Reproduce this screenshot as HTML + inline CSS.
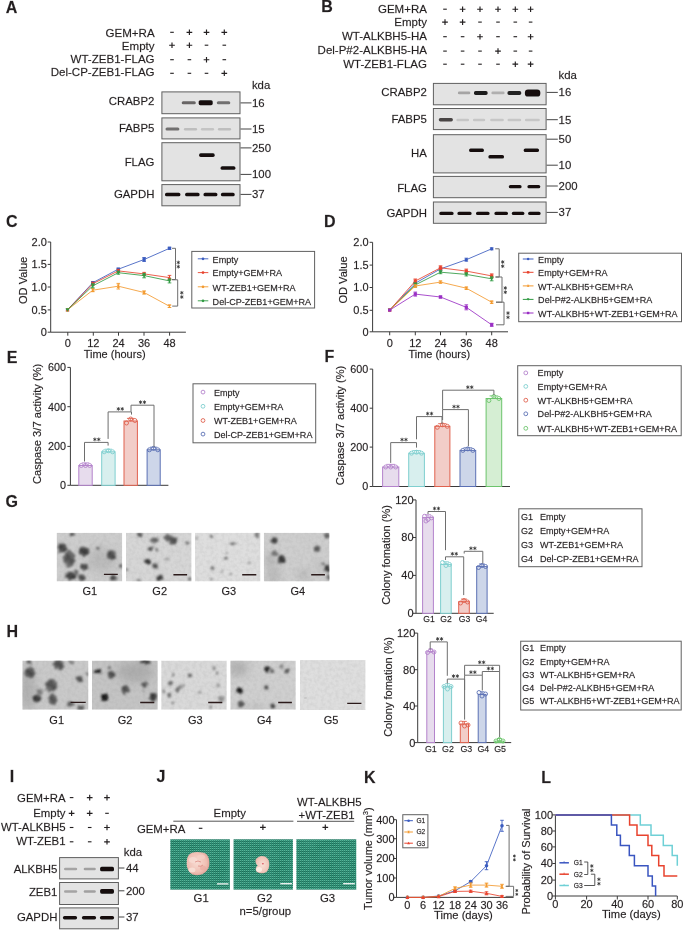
<!DOCTYPE html>
<html><head><meta charset="utf-8"><title>Figure</title>
<style>
html,body{margin:0;padding:0;background:#fff;}
svg{display:block;will-change:transform;}
text{font-family:"Liberation Sans",sans-serif;fill:#231f20;stroke:#231f20;stroke-width:0.28px;stroke-opacity:0.55;}
</style></head>
<body>
<svg width="685" height="931" viewBox="0 0 685 931">
<defs>
<filter id="bb" x="-20%" y="-100%" width="140%" height="300%"><feGaussianBlur stdDeviation="0.55"/></filter>
<filter id="bl1" x="-50%" y="-50%" width="200%" height="200%"><feGaussianBlur stdDeviation="0.8"/></filter>
<filter id="bl05" x="-20%" y="-20%" width="140%" height="140%"><feGaussianBlur stdDeviation="0.5"/></filter>
<filter id="bl4" x="-100%" y="-100%" width="300%" height="300%"><feGaussianBlur stdDeviation="4"/></filter>
<filter id="rough" x="-10%" y="-10%" width="120%" height="120%"><feTurbulence type="fractalNoise" baseFrequency="0.35" numOctaves="3" seed="7" result="t"/><feDisplacementMap in="SourceGraphic" in2="t" scale="4" xChannelSelector="R" yChannelSelector="G" result="d"/><feGaussianBlur in="d" stdDeviation="0.8"/></filter>
<filter id="noise" x="0" y="0" width="100%" height="100%"><feTurbulence type="fractalNoise" baseFrequency="0.28" numOctaves="2" seed="3"/><feColorMatrix type="matrix" values="0 0 0 0 0.25  0 0 0 0 0.25  0 0 0 0 0.25  1.3 0 0 0 -0.5"/></filter>
<pattern id="fab" width="2" height="2" patternUnits="userSpaceOnUse"><rect x="0" y="0" width="1" height="1" fill="#58b498"/><rect x="1" y="0" width="1" height="1" fill="#2b8c72"/><rect x="0" y="1" width="1" height="1" fill="#1b6c55"/><rect x="1" y="1" width="1" height="1" fill="#2a856d"/></pattern>
<radialGradient id="tum" cx="0.45" cy="0.45" r="0.6"><stop offset="0" stop-color="#f8ddd4"/><stop offset="0.7" stop-color="#efbfb3"/><stop offset="1" stop-color="#dc9e94"/></radialGradient>
<radialGradient id="tum2" cx="0.5" cy="0.5" r="0.6"><stop offset="0" stop-color="#f8e0d6"/><stop offset="0.7" stop-color="#f0c6ba"/><stop offset="1" stop-color="#e0a99e"/></radialGradient>
<filter id="noise2" x="0" y="0" width="100%" height="100%"><feTurbulence type="fractalNoise" baseFrequency="0.08" numOctaves="2" seed="11"/><feColorMatrix type="matrix" values="0 0 0 0 0.1  0 0 0 0 0.45  0 0 0 0 0.35  0 0 0 1.2 -0.3"/></filter>
</defs>
<rect x="0" y="0" width="685" height="931" fill="#fff"/>
<text x="5.800000000000001" y="13.1" font-size="16" font-weight="bold" fill="#1a1414">A</text>
<text x="154.6" y="36.6" font-size="11.55" text-anchor="end">GEM+RA</text>
<text x="154.6" y="49.7" font-size="11.55" text-anchor="end">Empty</text>
<text x="154.6" y="62.9" font-size="11.55" text-anchor="end">WT-ZEB1-FLAG</text>
<text x="154.6" y="76.1" font-size="11.55" text-anchor="end">Del-CP-ZEB1-FLAG</text>
<rect x="170.20" y="31.75" width="3.6" height="1.1" fill="#231f20"/>
<path d="M186.55,32.30H192.25M189.40,29.50V35.10" stroke="#231f20" stroke-width="1.15" fill="none"/>
<path d="M203.65,32.30H209.35M206.50,29.50V35.10" stroke="#231f20" stroke-width="1.15" fill="none"/>
<path d="M221.45,32.30H227.15M224.30,29.50V35.10" stroke="#231f20" stroke-width="1.15" fill="none"/>
<path d="M169.15,45.20H174.85M172.00,42.40V48.00" stroke="#231f20" stroke-width="1.15" fill="none"/>
<path d="M186.55,45.20H192.25M189.40,42.40V48.00" stroke="#231f20" stroke-width="1.15" fill="none"/>
<rect x="204.70" y="44.65" width="3.6" height="1.1" fill="#231f20"/>
<rect x="222.50" y="44.65" width="3.6" height="1.1" fill="#231f20"/>
<rect x="170.20" y="59.15" width="3.6" height="1.1" fill="#231f20"/>
<rect x="187.60" y="59.15" width="3.6" height="1.1" fill="#231f20"/>
<path d="M203.65,59.70H209.35M206.50,56.90V62.50" stroke="#231f20" stroke-width="1.15" fill="none"/>
<rect x="222.50" y="59.15" width="3.6" height="1.1" fill="#231f20"/>
<rect x="170.20" y="72.75" width="3.6" height="1.1" fill="#231f20"/>
<rect x="187.60" y="72.75" width="3.6" height="1.1" fill="#231f20"/>
<rect x="204.70" y="72.75" width="3.6" height="1.1" fill="#231f20"/>
<path d="M221.45,73.30H227.15M224.30,70.50V76.10" stroke="#231f20" stroke-width="1.15" fill="none"/>
<text x="251.9" y="88.5" font-size="11.4">kda</text>
<rect x="161.9" y="91.9" width="78.1" height="21.799999999999997" fill="#e3e3e3" stroke="#5f5f5f" stroke-width="1"/>
<rect x="161.9" y="117.9" width="78.1" height="21.0" fill="#e3e3e3" stroke="#5f5f5f" stroke-width="1"/>
<rect x="161.9" y="142.7" width="78.1" height="38.10000000000002" fill="#e3e3e3" stroke="#5f5f5f" stroke-width="1"/>
<rect x="161.9" y="184.6" width="78.1" height="21.200000000000017" fill="#e3e3e3" stroke="#5f5f5f" stroke-width="1"/>
<text x="154.4" y="105.2" font-size="11.4" text-anchor="end">CRABP2</text>
<text x="154.4" y="131.6" font-size="11.4" text-anchor="end">FABP5</text>
<text x="154.4" y="166.0" font-size="11.4" text-anchor="end">FLAG</text>
<text x="154.4" y="198.2" font-size="11.4" text-anchor="end">GAPDH</text>
<rect x="181.70" y="101.30" width="14.10" height="3.0" rx="1.50" fill="rgb(103,101,101)" filter="url(#bb)"/>
<rect x="198.70" y="100.20" width="14.00" height="5.0" rx="1.60" fill="rgb(20,16,16)" filter="url(#bb)"/>
<rect x="216.80" y="101.30" width="13.50" height="3.0" rx="1.50" fill="rgb(113,111,111)" filter="url(#bb)"/>
<rect x="165.50" y="127.50" width="13.90" height="3.0" rx="1.50" fill="rgb(113,111,111)" filter="url(#bb)"/>
<rect x="183.90" y="127.95" width="13.20" height="2.5" rx="1.25" fill="rgb(190,190,190)" filter="url(#bb)"/>
<rect x="200.90" y="127.95" width="13.20" height="2.5" rx="1.25" fill="rgb(196,196,196)" filter="url(#bb)"/>
<rect x="217.90" y="127.95" width="13.20" height="2.5" rx="1.25" fill="rgb(190,190,190)" filter="url(#bb)"/>
<rect x="199.10" y="153.30" width="15.60" height="3.6" rx="1.60" fill="rgb(20,16,16)" filter="url(#bb)"/>
<rect x="220.60" y="166.20" width="14.80" height="3.6" rx="1.60" fill="rgb(20,16,16)" filter="url(#bb)"/>
<rect x="165.00" y="192.70" width="15.40" height="3.6" rx="1.60" fill="rgb(20,16,16)" filter="url(#bb)"/>
<rect x="185.10" y="192.70" width="14.50" height="3.6" rx="1.60" fill="rgb(20,16,16)" filter="url(#bb)"/>
<rect x="203.50" y="192.70" width="13.90" height="3.6" rx="1.60" fill="rgb(20,16,16)" filter="url(#bb)"/>
<rect x="220.90" y="192.70" width="13.80" height="3.6" rx="1.60" fill="rgb(20,16,16)" filter="url(#bb)"/>
<line x1="240.5" y1="102.9" x2="251.5" y2="102.9" stroke="#444" stroke-width="1"/>
<text x="252.0" y="106.9" font-size="11.4">16</text>
<line x1="240.5" y1="129.0" x2="251.5" y2="129.0" stroke="#444" stroke-width="1"/>
<text x="252.0" y="133.0" font-size="11.4">15</text>
<line x1="240.5" y1="147.9" x2="251.5" y2="147.9" stroke="#444" stroke-width="1"/>
<text x="252.0" y="151.9" font-size="11.4">250</text>
<line x1="240.5" y1="174.4" x2="251.5" y2="174.4" stroke="#444" stroke-width="1"/>
<text x="252.0" y="178.4" font-size="11.4">100</text>
<line x1="240.5" y1="194.4" x2="251.5" y2="194.4" stroke="#444" stroke-width="1"/>
<text x="252.0" y="198.4" font-size="11.4">37</text>
<text x="321.2" y="12.1" font-size="16" font-weight="bold" fill="#1a1414">B</text>
<text x="426.9" y="13.1" font-size="11.5" text-anchor="end">GEM+RA</text>
<text x="426.9" y="25.5" font-size="11.5" text-anchor="end">Empty</text>
<text x="426.9" y="40.3" font-size="11.5" text-anchor="end">WT-ALKBH5-HA</text>
<text x="426.9" y="54.3" font-size="11.5" text-anchor="end">Del-P#2-ALKBH5-HA</text>
<text x="426.9" y="68.0" font-size="11.5" text-anchor="end">WT-ZEB1-FLAG</text>
<rect x="443.20" y="8.65" width="3.6" height="1.1" fill="#231f20"/>
<path d="M459.75,9.20H465.45M462.60,6.40V12.00" stroke="#231f20" stroke-width="1.15" fill="none"/>
<path d="M477.15,9.20H482.85M480.00,6.40V12.00" stroke="#231f20" stroke-width="1.15" fill="none"/>
<path d="M495.15,9.20H500.85M498.00,6.40V12.00" stroke="#231f20" stroke-width="1.15" fill="none"/>
<path d="M512.45,9.20H518.15M515.30,6.40V12.00" stroke="#231f20" stroke-width="1.15" fill="none"/>
<path d="M527.75,9.20H533.45M530.60,6.40V12.00" stroke="#231f20" stroke-width="1.15" fill="none"/>
<path d="M442.15,22.10H447.85M445.00,19.30V24.90" stroke="#231f20" stroke-width="1.15" fill="none"/>
<path d="M459.75,22.10H465.45M462.60,19.30V24.90" stroke="#231f20" stroke-width="1.15" fill="none"/>
<rect x="478.20" y="21.55" width="3.6" height="1.1" fill="#231f20"/>
<rect x="496.20" y="21.55" width="3.6" height="1.1" fill="#231f20"/>
<rect x="513.50" y="21.55" width="3.6" height="1.1" fill="#231f20"/>
<rect x="528.80" y="21.55" width="3.6" height="1.1" fill="#231f20"/>
<rect x="443.20" y="36.15" width="3.6" height="1.1" fill="#231f20"/>
<rect x="460.80" y="36.15" width="3.6" height="1.1" fill="#231f20"/>
<path d="M477.15,36.70H482.85M480.00,33.90V39.50" stroke="#231f20" stroke-width="1.15" fill="none"/>
<rect x="496.20" y="36.15" width="3.6" height="1.1" fill="#231f20"/>
<rect x="513.50" y="36.15" width="3.6" height="1.1" fill="#231f20"/>
<path d="M527.75,36.70H533.45M530.60,33.90V39.50" stroke="#231f20" stroke-width="1.15" fill="none"/>
<rect x="443.20" y="50.55" width="3.6" height="1.1" fill="#231f20"/>
<rect x="460.80" y="50.55" width="3.6" height="1.1" fill="#231f20"/>
<rect x="478.20" y="50.55" width="3.6" height="1.1" fill="#231f20"/>
<path d="M495.15,51.10H500.85M498.00,48.30V53.90" stroke="#231f20" stroke-width="1.15" fill="none"/>
<rect x="513.50" y="50.55" width="3.6" height="1.1" fill="#231f20"/>
<rect x="528.80" y="50.55" width="3.6" height="1.1" fill="#231f20"/>
<rect x="443.20" y="63.65" width="3.6" height="1.1" fill="#231f20"/>
<rect x="460.80" y="63.65" width="3.6" height="1.1" fill="#231f20"/>
<rect x="478.20" y="63.65" width="3.6" height="1.1" fill="#231f20"/>
<rect x="496.20" y="63.65" width="3.6" height="1.1" fill="#231f20"/>
<path d="M512.45,64.20H518.15M515.30,61.40V67.00" stroke="#231f20" stroke-width="1.15" fill="none"/>
<path d="M527.75,64.20H533.45M530.60,61.40V67.00" stroke="#231f20" stroke-width="1.15" fill="none"/>
<text x="558.6" y="78.6" font-size="11.4">kda</text>
<rect x="433.4" y="83.4" width="112.70000000000005" height="21.39999999999999" fill="#e3e3e3" stroke="#5f5f5f" stroke-width="1"/>
<rect x="433.4" y="108.5" width="112.70000000000005" height="21.099999999999994" fill="#e3e3e3" stroke="#5f5f5f" stroke-width="1"/>
<rect x="433.4" y="134.7" width="112.70000000000005" height="38.20000000000002" fill="#e3e3e3" stroke="#5f5f5f" stroke-width="1"/>
<rect x="433.4" y="176.4" width="112.70000000000005" height="21.299999999999983" fill="#e3e3e3" stroke="#5f5f5f" stroke-width="1"/>
<rect x="433.4" y="202.0" width="112.70000000000005" height="21.30000000000001" fill="#e3e3e3" stroke="#5f5f5f" stroke-width="1"/>
<text x="426.9" y="96.4" font-size="11.4" text-anchor="end">CRABP2</text>
<text x="426.9" y="122.9" font-size="11.4" text-anchor="end">FABP5</text>
<text x="426.9" y="157.2" font-size="11.4" text-anchor="end">HA</text>
<text x="426.9" y="191.9" font-size="11.4" text-anchor="end">FLAG</text>
<text x="426.9" y="217.2" font-size="11.4" text-anchor="end">GAPDH</text>
<rect x="457.90" y="91.60" width="12.40" height="2.6" rx="1.30" fill="rgb(165,164,164)" filter="url(#bb)"/>
<rect x="474.00" y="90.90" width="13.60" height="4.0" rx="1.60" fill="rgb(30,27,27)" filter="url(#bb)"/>
<rect x="491.40" y="91.60" width="13.20" height="2.6" rx="1.30" fill="rgb(176,175,175)" filter="url(#bb)"/>
<rect x="507.50" y="90.90" width="13.70" height="4.0" rx="1.60" fill="rgb(36,33,33)" filter="url(#bb)"/>
<rect x="524.90" y="89.40" width="15.40" height="7.2" rx="3.20" fill="rgb(20,16,16)" filter="url(#bb)"/>
<rect x="438.80" y="117.95" width="14.10" height="3.5" rx="1.60" fill="rgb(72,69,69)" filter="url(#bb)"/>
<rect x="456.40" y="118.75" width="12.70" height="2.5" rx="1.25" fill="rgb(198,198,198)" filter="url(#bb)"/>
<rect x="472.90" y="118.75" width="12.30" height="2.5" rx="1.25" fill="rgb(198,198,198)" filter="url(#bb)"/>
<rect x="490.20" y="118.75" width="13.60" height="2.5" rx="1.25" fill="rgb(198,198,198)" filter="url(#bb)"/>
<rect x="507.50" y="118.75" width="13.70" height="2.5" rx="1.25" fill="rgb(198,198,198)" filter="url(#bb)"/>
<rect x="524.90" y="118.75" width="14.90" height="2.5" rx="1.25" fill="rgb(198,198,198)" filter="url(#bb)"/>
<rect x="469.10" y="148.50" width="14.80" height="3.6" rx="1.60" fill="rgb(20,16,16)" filter="url(#bb)"/>
<rect x="488.40" y="155.00" width="15.60" height="3.6" rx="1.60" fill="rgb(20,16,16)" filter="url(#bb)"/>
<rect x="523.70" y="148.50" width="15.30" height="3.6" rx="1.60" fill="rgb(20,16,16)" filter="url(#bb)"/>
<rect x="508.80" y="184.90" width="12.80" height="3.4" rx="1.60" fill="rgb(20,16,16)" filter="url(#bb)"/>
<rect x="527.40" y="184.90" width="12.90" height="3.4" rx="1.60" fill="rgb(20,16,16)" filter="url(#bb)"/>
<rect x="439.30" y="211.70" width="14.30" height="3.4" rx="1.60" fill="rgb(20,16,16)" filter="url(#bb)"/>
<rect x="457.40" y="211.70" width="14.20" height="3.4" rx="1.60" fill="rgb(20,16,16)" filter="url(#bb)"/>
<rect x="476.00" y="211.70" width="13.60" height="3.4" rx="1.60" fill="rgb(20,16,16)" filter="url(#bb)"/>
<rect x="494.40" y="211.70" width="13.60" height="3.4" rx="1.60" fill="rgb(20,16,16)" filter="url(#bb)"/>
<rect x="511.80" y="211.70" width="12.60" height="3.4" rx="1.60" fill="rgb(20,16,16)" filter="url(#bb)"/>
<rect x="528.10" y="211.70" width="12.50" height="3.4" rx="1.60" fill="rgb(20,16,16)" filter="url(#bb)"/>
<line x1="546.6" y1="92.4" x2="557.8" y2="92.4" stroke="#444" stroke-width="1"/>
<text x="558.6" y="96.4" font-size="11.4">16</text>
<line x1="546.6" y1="119.7" x2="557.8" y2="119.7" stroke="#444" stroke-width="1"/>
<text x="558.6" y="123.7" font-size="11.4">15</text>
<line x1="546.6" y1="139.2" x2="557.8" y2="139.2" stroke="#444" stroke-width="1"/>
<text x="558.6" y="143.2" font-size="11.4">50</text>
<line x1="546.6" y1="165.2" x2="557.8" y2="165.2" stroke="#444" stroke-width="1"/>
<text x="558.6" y="169.2" font-size="11.4">10</text>
<line x1="546.6" y1="186.0" x2="557.8" y2="186.0" stroke="#444" stroke-width="1"/>
<text x="558.6" y="190.0" font-size="11.4">200</text>
<line x1="546.6" y1="212.4" x2="557.8" y2="212.4" stroke="#444" stroke-width="1"/>
<text x="558.6" y="216.4" font-size="11.4">37</text>
<text x="6.0" y="226.6" font-size="16" font-weight="bold" fill="#1a1414">C</text>
<line x1="50.7" y1="242" x2="50.7" y2="332.2" stroke="#3a3a3a" stroke-width="1"/>
<line x1="47.7" y1="242" x2="50.7" y2="242" stroke="#3a3a3a" stroke-width="1"/>
<text x="46.9" y="245.9" font-size="11" text-anchor="end">2.0</text>
<line x1="47.7" y1="264.4" x2="50.7" y2="264.4" stroke="#3a3a3a" stroke-width="1"/>
<text x="46.9" y="268.29999999999995" font-size="11" text-anchor="end">1.5</text>
<line x1="47.7" y1="287" x2="50.7" y2="287" stroke="#3a3a3a" stroke-width="1"/>
<text x="46.9" y="290.9" font-size="11" text-anchor="end">1.0</text>
<line x1="47.7" y1="309.9" x2="50.7" y2="309.9" stroke="#3a3a3a" stroke-width="1"/>
<text x="46.9" y="313.79999999999995" font-size="11" text-anchor="end">0.5</text>
<line x1="47.7" y1="332.2" x2="50.7" y2="332.2" stroke="#3a3a3a" stroke-width="1"/>
<text x="46.9" y="336.09999999999997" font-size="11" text-anchor="end">0</text>
<line x1="50.7" y1="332.2" x2="185.9" y2="332.2" stroke="#3a3a3a" stroke-width="1"/>
<line x1="67.8" y1="332.2" x2="67.8" y2="335.7" stroke="#3a3a3a" stroke-width="1"/>
<text x="67.8" y="347.2" font-size="11" text-anchor="middle">0</text>
<line x1="93.3" y1="332.2" x2="93.3" y2="335.7" stroke="#3a3a3a" stroke-width="1"/>
<text x="93.3" y="347.2" font-size="11" text-anchor="middle">12</text>
<line x1="118.5" y1="332.2" x2="118.5" y2="335.7" stroke="#3a3a3a" stroke-width="1"/>
<text x="118.5" y="347.2" font-size="11" text-anchor="middle">24</text>
<line x1="144" y1="332.2" x2="144" y2="335.7" stroke="#3a3a3a" stroke-width="1"/>
<text x="144" y="347.2" font-size="11" text-anchor="middle">36</text>
<line x1="169.6" y1="332.2" x2="169.6" y2="335.7" stroke="#3a3a3a" stroke-width="1"/>
<text x="169.6" y="347.2" font-size="11" text-anchor="middle">48</text>
<text x="114.6" y="357.8" font-size="11" text-anchor="middle" textLength="61.9" lengthAdjust="spacingAndGlyphs">Time (hours)</text>
<text transform="translate(26.6,280.4) rotate(-90)" font-size="11" text-anchor="middle" textLength="47.2" lengthAdjust="spacingAndGlyphs">OD Value</text>
<polyline points="67.5,309.8 92.8,282.7 118.3,269.2 144.1,259.5 169.5,248.3" fill="none" stroke="#3b5cbf" stroke-width="0.85"/>
<rect x="65.9" y="308.2" width="3.2" height="3.2" fill="#3b5cbf" stroke="none" stroke-width="1"/>
<line x1="92.8" y1="281.7" x2="92.8" y2="283.7" stroke="#3b5cbf" stroke-width="0.9"/>
<line x1="91.0" y1="281.7" x2="94.6" y2="281.7" stroke="#3b5cbf" stroke-width="0.9"/>
<line x1="91.0" y1="283.7" x2="94.6" y2="283.7" stroke="#3b5cbf" stroke-width="0.9"/>
<rect x="91.2" y="281.09999999999997" width="3.2" height="3.2" fill="#3b5cbf" stroke="none" stroke-width="1"/>
<line x1="118.3" y1="268.2" x2="118.3" y2="270.2" stroke="#3b5cbf" stroke-width="0.9"/>
<line x1="116.5" y1="268.2" x2="120.1" y2="268.2" stroke="#3b5cbf" stroke-width="0.9"/>
<line x1="116.5" y1="270.2" x2="120.1" y2="270.2" stroke="#3b5cbf" stroke-width="0.9"/>
<rect x="116.7" y="267.59999999999997" width="3.2" height="3.2" fill="#3b5cbf" stroke="none" stroke-width="1"/>
<line x1="144.1" y1="257.5" x2="144.1" y2="261.5" stroke="#3b5cbf" stroke-width="0.9"/>
<line x1="142.29999999999998" y1="257.5" x2="145.9" y2="257.5" stroke="#3b5cbf" stroke-width="0.9"/>
<line x1="142.29999999999998" y1="261.5" x2="145.9" y2="261.5" stroke="#3b5cbf" stroke-width="0.9"/>
<rect x="142.5" y="257.9" width="3.2" height="3.2" fill="#3b5cbf" stroke="none" stroke-width="1"/>
<line x1="169.5" y1="247.3" x2="169.5" y2="249.3" stroke="#3b5cbf" stroke-width="0.9"/>
<line x1="167.7" y1="247.3" x2="171.3" y2="247.3" stroke="#3b5cbf" stroke-width="0.9"/>
<line x1="167.7" y1="249.3" x2="171.3" y2="249.3" stroke="#3b5cbf" stroke-width="0.9"/>
<rect x="167.9" y="246.70000000000002" width="3.2" height="3.2" fill="#3b5cbf" stroke="none" stroke-width="1"/>
<polyline points="67.5,309.8 92.8,283.7 118.3,270.9 144.1,273.9 169.5,277.6" fill="none" stroke="#e8432e" stroke-width="0.85"/>
<polygon points="67.5,307.76 65.63,311.33 69.37,311.33" fill="#e8432e"/>
<line x1="92.8" y1="282.2" x2="92.8" y2="285.2" stroke="#e8432e" stroke-width="0.9"/>
<line x1="91.0" y1="282.2" x2="94.6" y2="282.2" stroke="#e8432e" stroke-width="0.9"/>
<line x1="91.0" y1="285.2" x2="94.6" y2="285.2" stroke="#e8432e" stroke-width="0.9"/>
<polygon points="92.8,281.65999999999997 90.92999999999999,285.22999999999996 94.67,285.22999999999996" fill="#e8432e"/>
<line x1="118.3" y1="269.4" x2="118.3" y2="272.4" stroke="#e8432e" stroke-width="0.9"/>
<line x1="116.5" y1="269.4" x2="120.1" y2="269.4" stroke="#e8432e" stroke-width="0.9"/>
<line x1="116.5" y1="272.4" x2="120.1" y2="272.4" stroke="#e8432e" stroke-width="0.9"/>
<polygon points="118.3,268.85999999999996 116.42999999999999,272.42999999999995 120.17,272.42999999999995" fill="#e8432e"/>
<line x1="144.1" y1="272.4" x2="144.1" y2="275.4" stroke="#e8432e" stroke-width="0.9"/>
<line x1="142.29999999999998" y1="272.4" x2="145.9" y2="272.4" stroke="#e8432e" stroke-width="0.9"/>
<line x1="142.29999999999998" y1="275.4" x2="145.9" y2="275.4" stroke="#e8432e" stroke-width="0.9"/>
<polygon points="144.1,271.85999999999996 142.23,275.42999999999995 145.97,275.42999999999995" fill="#e8432e"/>
<line x1="169.5" y1="275.40000000000003" x2="169.5" y2="279.8" stroke="#e8432e" stroke-width="0.9"/>
<line x1="167.7" y1="275.40000000000003" x2="171.3" y2="275.40000000000003" stroke="#e8432e" stroke-width="0.9"/>
<line x1="167.7" y1="279.8" x2="171.3" y2="279.8" stroke="#e8432e" stroke-width="0.9"/>
<polygon points="169.5,275.56 167.63,279.13 171.37,279.13" fill="#e8432e"/>
<polyline points="67.5,309.8 92.8,290.2 118.3,286.2 144.1,292.5 169.5,306.3" fill="none" stroke="#f39a2f" stroke-width="0.85"/>
<polygon points="65.8,308.1 69.2,308.1 67.5,310.31" fill="#f39a2f"/>
<polygon points="65.8,311.5 69.2,311.5 67.5,309.29" fill="#f39a2f"/>
<line x1="92.8" y1="288.7" x2="92.8" y2="291.7" stroke="#f39a2f" stroke-width="0.9"/>
<line x1="91.0" y1="288.7" x2="94.6" y2="288.7" stroke="#f39a2f" stroke-width="0.9"/>
<line x1="91.0" y1="291.7" x2="94.6" y2="291.7" stroke="#f39a2f" stroke-width="0.9"/>
<polygon points="91.1,288.5 94.5,288.5 92.8,290.71" fill="#f39a2f"/>
<polygon points="91.1,291.9 94.5,291.9 92.8,289.69" fill="#f39a2f"/>
<line x1="118.3" y1="283.4" x2="118.3" y2="289.0" stroke="#f39a2f" stroke-width="0.9"/>
<line x1="116.5" y1="283.4" x2="120.1" y2="283.4" stroke="#f39a2f" stroke-width="0.9"/>
<line x1="116.5" y1="289.0" x2="120.1" y2="289.0" stroke="#f39a2f" stroke-width="0.9"/>
<polygon points="116.6,284.5 120.0,284.5 118.3,286.71" fill="#f39a2f"/>
<polygon points="116.6,287.9 120.0,287.9 118.3,285.69" fill="#f39a2f"/>
<line x1="144.1" y1="291.0" x2="144.1" y2="294.0" stroke="#f39a2f" stroke-width="0.9"/>
<line x1="142.29999999999998" y1="291.0" x2="145.9" y2="291.0" stroke="#f39a2f" stroke-width="0.9"/>
<line x1="142.29999999999998" y1="294.0" x2="145.9" y2="294.0" stroke="#f39a2f" stroke-width="0.9"/>
<polygon points="142.4,290.8 145.79999999999998,290.8 144.1,293.01" fill="#f39a2f"/>
<polygon points="142.4,294.2 145.79999999999998,294.2 144.1,291.99" fill="#f39a2f"/>
<line x1="169.5" y1="305.1" x2="169.5" y2="307.5" stroke="#f39a2f" stroke-width="0.9"/>
<line x1="167.7" y1="305.1" x2="171.3" y2="305.1" stroke="#f39a2f" stroke-width="0.9"/>
<line x1="167.7" y1="307.5" x2="171.3" y2="307.5" stroke="#f39a2f" stroke-width="0.9"/>
<polygon points="167.8,304.6 171.2,304.6 169.5,306.81" fill="#f39a2f"/>
<polygon points="167.8,308.0 171.2,308.0 169.5,305.79" fill="#f39a2f"/>
<polyline points="67.5,309.8 92.8,285.8 118.3,272.7 144.1,275.6 169.5,280.9" fill="none" stroke="#2f9a42" stroke-width="0.85"/>
<polygon points="67.5,311.84000000000003 65.63,308.27000000000004 69.37,308.27000000000004" fill="#2f9a42"/>
<line x1="92.8" y1="283.8" x2="92.8" y2="287.8" stroke="#2f9a42" stroke-width="0.9"/>
<line x1="91.0" y1="283.8" x2="94.6" y2="283.8" stroke="#2f9a42" stroke-width="0.9"/>
<line x1="91.0" y1="287.8" x2="94.6" y2="287.8" stroke="#2f9a42" stroke-width="0.9"/>
<polygon points="92.8,287.84000000000003 90.92999999999999,284.27000000000004 94.67,284.27000000000004" fill="#2f9a42"/>
<line x1="118.3" y1="271.2" x2="118.3" y2="274.2" stroke="#2f9a42" stroke-width="0.9"/>
<line x1="116.5" y1="271.2" x2="120.1" y2="271.2" stroke="#2f9a42" stroke-width="0.9"/>
<line x1="116.5" y1="274.2" x2="120.1" y2="274.2" stroke="#2f9a42" stroke-width="0.9"/>
<polygon points="118.3,274.74 116.42999999999999,271.17 120.17,271.17" fill="#2f9a42"/>
<line x1="144.1" y1="273.40000000000003" x2="144.1" y2="277.8" stroke="#2f9a42" stroke-width="0.9"/>
<line x1="142.29999999999998" y1="273.40000000000003" x2="145.9" y2="273.40000000000003" stroke="#2f9a42" stroke-width="0.9"/>
<line x1="142.29999999999998" y1="277.8" x2="145.9" y2="277.8" stroke="#2f9a42" stroke-width="0.9"/>
<polygon points="144.1,277.64000000000004 142.23,274.07000000000005 145.97,274.07000000000005" fill="#2f9a42"/>
<line x1="169.5" y1="278.9" x2="169.5" y2="282.9" stroke="#2f9a42" stroke-width="0.9"/>
<line x1="167.7" y1="278.9" x2="171.3" y2="278.9" stroke="#2f9a42" stroke-width="0.9"/>
<line x1="167.7" y1="282.9" x2="171.3" y2="282.9" stroke="#2f9a42" stroke-width="0.9"/>
<polygon points="169.5,282.94 167.63,279.37 171.37,279.37" fill="#2f9a42"/>
<polyline points="172.0,248.3 175.5,248.3 175.5,279.5 172.0,279.5" fill="none" stroke="#6e6e6e" stroke-width="1"/>
<polyline points="172.2,279.8 177.7,279.8 177.7,306.1 172.2,306.1" fill="none" stroke="#6e6e6e" stroke-width="1"/>
<path d="M178.30,260.65L178.30,264.35M176.70,261.57L179.90,263.43M179.90,261.57L176.70,263.43" stroke="#2e2e2e" stroke-width="0.8" fill="none"/>
<path d="M178.30,264.85L178.30,268.55M176.70,265.78L179.90,267.63M179.90,265.78L176.70,267.63" stroke="#2e2e2e" stroke-width="0.8" fill="none"/>
<path d="M181.80,290.95L181.80,294.65M180.20,291.87L183.40,293.72M183.40,291.87L180.20,293.72" stroke="#2e2e2e" stroke-width="0.8" fill="none"/>
<path d="M181.80,295.15L181.80,298.85M180.20,296.07L183.40,297.93M183.40,296.07L180.20,297.93" stroke="#2e2e2e" stroke-width="0.8" fill="none"/>
<rect x="191.8" y="251.4" width="122.80000000000001" height="56.599999999999994" fill="#fff" stroke="#606060" stroke-width="1"/>
<line x1="197.8" y1="258.8" x2="208.3" y2="258.8" stroke="#3b5cbf" stroke-width="0.9"/>
<circle cx="203" cy="258.8" r="1.35" fill="#3b5cbf"/>
<text x="212.6" y="262.5" font-size="9.05">Empty</text>
<line x1="197.8" y1="272.6" x2="208.3" y2="272.6" stroke="#e8432e" stroke-width="0.9"/>
<circle cx="203" cy="272.6" r="1.35" fill="#e8432e"/>
<text x="212.6" y="276.3" font-size="9.05">Empty+GEM+RA</text>
<line x1="197.8" y1="286.8" x2="208.3" y2="286.8" stroke="#f39a2f" stroke-width="0.9"/>
<circle cx="203" cy="286.8" r="1.35" fill="#f39a2f"/>
<text x="212.6" y="290.5" font-size="9.05">WT-ZEB1+GEM+RA</text>
<line x1="197.8" y1="300.8" x2="208.3" y2="300.8" stroke="#2f9a42" stroke-width="0.9"/>
<circle cx="203" cy="300.8" r="1.35" fill="#2f9a42"/>
<text x="212.6" y="304.5" font-size="9.05">Del-CP-ZEB1+GEM+RA</text>
<text x="324.09999999999997" y="226.9" font-size="16" font-weight="bold" fill="#1a1414">D</text>
<line x1="372.6" y1="242.3" x2="372.6" y2="331.8" stroke="#3a3a3a" stroke-width="1"/>
<line x1="369.6" y1="242.3" x2="372.6" y2="242.3" stroke="#3a3a3a" stroke-width="1"/>
<text x="368.6" y="246.20000000000002" font-size="11" text-anchor="end">2.0</text>
<line x1="369.6" y1="265.1" x2="372.6" y2="265.1" stroke="#3a3a3a" stroke-width="1"/>
<text x="368.6" y="269.0" font-size="11" text-anchor="end">1.5</text>
<line x1="369.6" y1="287.5" x2="372.6" y2="287.5" stroke="#3a3a3a" stroke-width="1"/>
<text x="368.6" y="291.4" font-size="11" text-anchor="end">1.0</text>
<line x1="369.6" y1="310.3" x2="372.6" y2="310.3" stroke="#3a3a3a" stroke-width="1"/>
<text x="368.6" y="314.2" font-size="11" text-anchor="end">0.5</text>
<line x1="369.6" y1="331.8" x2="372.6" y2="331.8" stroke="#3a3a3a" stroke-width="1"/>
<text x="368.6" y="335.7" font-size="11" text-anchor="end">0</text>
<line x1="372.6" y1="331.8" x2="508" y2="331.8" stroke="#3a3a3a" stroke-width="1"/>
<line x1="389.7" y1="331.8" x2="389.7" y2="335.3" stroke="#3a3a3a" stroke-width="1"/>
<text x="389.7" y="347.4" font-size="11" text-anchor="middle">0</text>
<line x1="415.3" y1="331.8" x2="415.3" y2="335.3" stroke="#3a3a3a" stroke-width="1"/>
<text x="415.3" y="347.4" font-size="11" text-anchor="middle">12</text>
<line x1="440.5" y1="331.8" x2="440.5" y2="335.3" stroke="#3a3a3a" stroke-width="1"/>
<text x="440.5" y="347.4" font-size="11" text-anchor="middle">24</text>
<line x1="466.3" y1="331.8" x2="466.3" y2="335.3" stroke="#3a3a3a" stroke-width="1"/>
<text x="466.3" y="347.4" font-size="11" text-anchor="middle">36</text>
<line x1="491.7" y1="331.8" x2="491.7" y2="335.3" stroke="#3a3a3a" stroke-width="1"/>
<text x="491.7" y="347.4" font-size="11" text-anchor="middle">48</text>
<text x="439.3" y="357.7" font-size="11" text-anchor="middle" textLength="61.6" lengthAdjust="spacingAndGlyphs">Time (hours)</text>
<text transform="translate(347.4,280.0) rotate(-90)" font-size="11" text-anchor="middle" textLength="47.2" lengthAdjust="spacingAndGlyphs">OD Value</text>
<polyline points="389.7,310.1 415.3,283.2 440.5,268.9 466.3,259.7 491.7,248.8" fill="none" stroke="#3b5cbf" stroke-width="0.85"/>
<circle cx="389.7" cy="310.1" r="1.6" fill="#3b5cbf"/>
<line x1="415.3" y1="282.2" x2="415.3" y2="284.2" stroke="#3b5cbf" stroke-width="0.9"/>
<line x1="413.5" y1="282.2" x2="417.1" y2="282.2" stroke="#3b5cbf" stroke-width="0.9"/>
<line x1="413.5" y1="284.2" x2="417.1" y2="284.2" stroke="#3b5cbf" stroke-width="0.9"/>
<circle cx="415.3" cy="283.2" r="1.6" fill="#3b5cbf"/>
<line x1="440.5" y1="267.9" x2="440.5" y2="269.9" stroke="#3b5cbf" stroke-width="0.9"/>
<line x1="438.7" y1="267.9" x2="442.3" y2="267.9" stroke="#3b5cbf" stroke-width="0.9"/>
<line x1="438.7" y1="269.9" x2="442.3" y2="269.9" stroke="#3b5cbf" stroke-width="0.9"/>
<circle cx="440.5" cy="268.9" r="1.6" fill="#3b5cbf"/>
<line x1="466.3" y1="258.2" x2="466.3" y2="261.2" stroke="#3b5cbf" stroke-width="0.9"/>
<line x1="464.5" y1="258.2" x2="468.1" y2="258.2" stroke="#3b5cbf" stroke-width="0.9"/>
<line x1="464.5" y1="261.2" x2="468.1" y2="261.2" stroke="#3b5cbf" stroke-width="0.9"/>
<circle cx="466.3" cy="259.7" r="1.6" fill="#3b5cbf"/>
<line x1="491.7" y1="247.8" x2="491.7" y2="249.8" stroke="#3b5cbf" stroke-width="0.9"/>
<line x1="489.9" y1="247.8" x2="493.5" y2="247.8" stroke="#3b5cbf" stroke-width="0.9"/>
<line x1="489.9" y1="249.8" x2="493.5" y2="249.8" stroke="#3b5cbf" stroke-width="0.9"/>
<circle cx="491.7" cy="248.8" r="1.6" fill="#3b5cbf"/>
<polyline points="389.7,310.1 415.3,281.0 440.5,267.8 466.3,271.1 491.7,275.9" fill="none" stroke="#e8432e" stroke-width="0.85"/>
<rect x="388.09999999999997" y="308.5" width="3.2" height="3.2" fill="#e8432e" stroke="none" stroke-width="1"/>
<line x1="415.3" y1="279.0" x2="415.3" y2="283.0" stroke="#e8432e" stroke-width="0.9"/>
<line x1="413.5" y1="279.0" x2="417.1" y2="279.0" stroke="#e8432e" stroke-width="0.9"/>
<line x1="413.5" y1="283.0" x2="417.1" y2="283.0" stroke="#e8432e" stroke-width="0.9"/>
<rect x="413.7" y="279.4" width="3.2" height="3.2" fill="#e8432e" stroke="none" stroke-width="1"/>
<line x1="440.5" y1="265.8" x2="440.5" y2="269.8" stroke="#e8432e" stroke-width="0.9"/>
<line x1="438.7" y1="265.8" x2="442.3" y2="265.8" stroke="#e8432e" stroke-width="0.9"/>
<line x1="438.7" y1="269.8" x2="442.3" y2="269.8" stroke="#e8432e" stroke-width="0.9"/>
<rect x="438.9" y="266.2" width="3.2" height="3.2" fill="#e8432e" stroke="none" stroke-width="1"/>
<line x1="466.3" y1="269.1" x2="466.3" y2="273.1" stroke="#e8432e" stroke-width="0.9"/>
<line x1="464.5" y1="269.1" x2="468.1" y2="269.1" stroke="#e8432e" stroke-width="0.9"/>
<line x1="464.5" y1="273.1" x2="468.1" y2="273.1" stroke="#e8432e" stroke-width="0.9"/>
<rect x="464.7" y="269.5" width="3.2" height="3.2" fill="#e8432e" stroke="none" stroke-width="1"/>
<line x1="491.7" y1="273.9" x2="491.7" y2="277.9" stroke="#e8432e" stroke-width="0.9"/>
<line x1="489.9" y1="273.9" x2="493.5" y2="273.9" stroke="#e8432e" stroke-width="0.9"/>
<line x1="489.9" y1="277.9" x2="493.5" y2="277.9" stroke="#e8432e" stroke-width="0.9"/>
<rect x="490.09999999999997" y="274.29999999999995" width="3.2" height="3.2" fill="#e8432e" stroke="none" stroke-width="1"/>
<polyline points="389.7,310.1 415.3,284.9 440.5,272.2 466.3,274.4 491.7,278.8" fill="none" stroke="#2f9a42" stroke-width="0.85"/>
<polygon points="389.7,312.14000000000004 387.83,308.57000000000005 391.57,308.57000000000005" fill="#2f9a42"/>
<line x1="415.3" y1="282.9" x2="415.3" y2="286.9" stroke="#2f9a42" stroke-width="0.9"/>
<line x1="413.5" y1="282.9" x2="417.1" y2="282.9" stroke="#2f9a42" stroke-width="0.9"/>
<line x1="413.5" y1="286.9" x2="417.1" y2="286.9" stroke="#2f9a42" stroke-width="0.9"/>
<polygon points="415.3,286.94 413.43,283.37 417.17,283.37" fill="#2f9a42"/>
<line x1="440.5" y1="270.7" x2="440.5" y2="273.7" stroke="#2f9a42" stroke-width="0.9"/>
<line x1="438.7" y1="270.7" x2="442.3" y2="270.7" stroke="#2f9a42" stroke-width="0.9"/>
<line x1="438.7" y1="273.7" x2="442.3" y2="273.7" stroke="#2f9a42" stroke-width="0.9"/>
<polygon points="440.5,274.24 438.63,270.67 442.37,270.67" fill="#2f9a42"/>
<line x1="466.3" y1="272.9" x2="466.3" y2="275.9" stroke="#2f9a42" stroke-width="0.9"/>
<line x1="464.5" y1="272.9" x2="468.1" y2="272.9" stroke="#2f9a42" stroke-width="0.9"/>
<line x1="464.5" y1="275.9" x2="468.1" y2="275.9" stroke="#2f9a42" stroke-width="0.9"/>
<polygon points="466.3,276.44 464.43,272.87 468.17,272.87" fill="#2f9a42"/>
<line x1="491.7" y1="276.8" x2="491.7" y2="280.8" stroke="#2f9a42" stroke-width="0.9"/>
<line x1="489.9" y1="276.8" x2="493.5" y2="276.8" stroke="#2f9a42" stroke-width="0.9"/>
<line x1="489.9" y1="280.8" x2="493.5" y2="280.8" stroke="#2f9a42" stroke-width="0.9"/>
<polygon points="491.7,280.84000000000003 489.83,277.27000000000004 493.57,277.27000000000004" fill="#2f9a42"/>
<polyline points="389.7,310.1 415.3,286.0 440.5,282.1 466.3,288.2 491.7,302.2" fill="none" stroke="#f39a2f" stroke-width="0.85"/>
<polygon points="388.0,308.40000000000003 391.4,308.40000000000003 389.7,310.61" fill="#f39a2f"/>
<polygon points="388.0,311.8 391.4,311.8 389.7,309.59000000000003" fill="#f39a2f"/>
<line x1="415.3" y1="285.0" x2="415.3" y2="287.0" stroke="#f39a2f" stroke-width="0.9"/>
<line x1="413.5" y1="285.0" x2="417.1" y2="285.0" stroke="#f39a2f" stroke-width="0.9"/>
<line x1="413.5" y1="287.0" x2="417.1" y2="287.0" stroke="#f39a2f" stroke-width="0.9"/>
<polygon points="413.6,284.3 417.0,284.3 415.3,286.51" fill="#f39a2f"/>
<polygon points="413.6,287.7 417.0,287.7 415.3,285.49" fill="#f39a2f"/>
<line x1="440.5" y1="281.1" x2="440.5" y2="283.1" stroke="#f39a2f" stroke-width="0.9"/>
<line x1="438.7" y1="281.1" x2="442.3" y2="281.1" stroke="#f39a2f" stroke-width="0.9"/>
<line x1="438.7" y1="283.1" x2="442.3" y2="283.1" stroke="#f39a2f" stroke-width="0.9"/>
<polygon points="438.8,280.40000000000003 442.2,280.40000000000003 440.5,282.61" fill="#f39a2f"/>
<polygon points="438.8,283.8 442.2,283.8 440.5,281.59000000000003" fill="#f39a2f"/>
<line x1="466.3" y1="287.2" x2="466.3" y2="289.2" stroke="#f39a2f" stroke-width="0.9"/>
<line x1="464.5" y1="287.2" x2="468.1" y2="287.2" stroke="#f39a2f" stroke-width="0.9"/>
<line x1="464.5" y1="289.2" x2="468.1" y2="289.2" stroke="#f39a2f" stroke-width="0.9"/>
<polygon points="464.6,286.5 468.0,286.5 466.3,288.71" fill="#f39a2f"/>
<polygon points="464.6,289.9 468.0,289.9 466.3,287.69" fill="#f39a2f"/>
<line x1="491.7" y1="301.2" x2="491.7" y2="303.2" stroke="#f39a2f" stroke-width="0.9"/>
<line x1="489.9" y1="301.2" x2="493.5" y2="301.2" stroke="#f39a2f" stroke-width="0.9"/>
<line x1="489.9" y1="303.2" x2="493.5" y2="303.2" stroke="#f39a2f" stroke-width="0.9"/>
<polygon points="490.0,300.5 493.4,300.5 491.7,302.71" fill="#f39a2f"/>
<polygon points="490.0,303.9 493.4,303.9 491.7,301.69" fill="#f39a2f"/>
<polyline points="389.7,310.1 415.3,294.1 440.5,297.0 466.3,307.3 491.7,324.8" fill="none" stroke="#9a2fc4" stroke-width="0.85"/>
<rect x="388.09999999999997" y="308.5" width="3.2" height="3.2" fill="#9a2fc4" stroke="none" stroke-width="1"/>
<line x1="415.3" y1="292.1" x2="415.3" y2="296.1" stroke="#9a2fc4" stroke-width="0.9"/>
<line x1="413.5" y1="292.1" x2="417.1" y2="292.1" stroke="#9a2fc4" stroke-width="0.9"/>
<line x1="413.5" y1="296.1" x2="417.1" y2="296.1" stroke="#9a2fc4" stroke-width="0.9"/>
<rect x="413.7" y="292.5" width="3.2" height="3.2" fill="#9a2fc4" stroke="none" stroke-width="1"/>
<line x1="440.5" y1="296.0" x2="440.5" y2="298.0" stroke="#9a2fc4" stroke-width="0.9"/>
<line x1="438.7" y1="296.0" x2="442.3" y2="296.0" stroke="#9a2fc4" stroke-width="0.9"/>
<line x1="438.7" y1="298.0" x2="442.3" y2="298.0" stroke="#9a2fc4" stroke-width="0.9"/>
<rect x="438.9" y="295.4" width="3.2" height="3.2" fill="#9a2fc4" stroke="none" stroke-width="1"/>
<line x1="466.3" y1="304.8" x2="466.3" y2="309.8" stroke="#9a2fc4" stroke-width="0.9"/>
<line x1="464.5" y1="304.8" x2="468.1" y2="304.8" stroke="#9a2fc4" stroke-width="0.9"/>
<line x1="464.5" y1="309.8" x2="468.1" y2="309.8" stroke="#9a2fc4" stroke-width="0.9"/>
<rect x="464.7" y="305.7" width="3.2" height="3.2" fill="#9a2fc4" stroke="none" stroke-width="1"/>
<line x1="491.7" y1="323.3" x2="491.7" y2="326.3" stroke="#9a2fc4" stroke-width="0.9"/>
<line x1="489.9" y1="323.3" x2="493.5" y2="323.3" stroke="#9a2fc4" stroke-width="0.9"/>
<line x1="489.9" y1="326.3" x2="493.5" y2="326.3" stroke="#9a2fc4" stroke-width="0.9"/>
<rect x="490.09999999999997" y="323.2" width="3.2" height="3.2" fill="#9a2fc4" stroke="none" stroke-width="1"/>
<polyline points="495.2,248.8 499.2,248.8 499.2,277.0 495.2,277.0" fill="none" stroke="#6e6e6e" stroke-width="1"/>
<polyline points="496.0,277.0 502.0,277.0 502.0,302.2 496.0,302.2" fill="none" stroke="#6e6e6e" stroke-width="1"/>
<polyline points="496.0,302.2 504.0,302.2 504.0,324.8 496.0,324.8" fill="none" stroke="#6e6e6e" stroke-width="1"/>
<path d="M502.70,260.15L502.70,263.85M501.10,261.07L504.30,262.93M504.30,261.07L501.10,262.93" stroke="#2e2e2e" stroke-width="0.8" fill="none"/>
<path d="M502.70,264.35L502.70,268.05M501.10,265.28L504.30,267.13M504.30,265.28L501.10,267.13" stroke="#2e2e2e" stroke-width="0.8" fill="none"/>
<path d="M505.30,286.15L505.30,289.85M503.70,287.07L506.90,288.93M506.90,287.07L503.70,288.93" stroke="#2e2e2e" stroke-width="0.8" fill="none"/>
<path d="M505.30,290.35L505.30,294.05M503.70,291.28L506.90,293.13M506.90,291.28L503.70,293.13" stroke="#2e2e2e" stroke-width="0.8" fill="none"/>
<path d="M508.00,311.25L508.00,314.95M506.40,312.17L509.60,314.02M509.60,312.17L506.40,314.02" stroke="#2e2e2e" stroke-width="0.8" fill="none"/>
<path d="M508.00,315.45L508.00,319.15M506.40,316.38L509.60,318.23M509.60,316.38L506.40,318.23" stroke="#2e2e2e" stroke-width="0.8" fill="none"/>
<rect x="518.7" y="253.2" width="162.79999999999995" height="68.5" fill="#fff" stroke="#606060" stroke-width="1"/>
<line x1="522.8" y1="259.0" x2="533.5" y2="259.0" stroke="#3b5cbf" stroke-width="1"/>
<circle cx="528.1" cy="259.0" r="1.2" fill="#3b5cbf"/>
<text x="538.1" y="262.9" font-size="9.05">Empty</text>
<line x1="522.8" y1="272.3" x2="533.5" y2="272.3" stroke="#e8432e" stroke-width="1"/>
<rect x="526.9" y="271.1" width="2.4" height="2.4" fill="#e8432e" stroke="none" stroke-width="1"/>
<text x="538.1" y="276.2" font-size="9.05">Empty+GEM+RA</text>
<line x1="522.8" y1="285.9" x2="533.5" y2="285.9" stroke="#f39a2f" stroke-width="1"/>
<polygon points="526.9,284.7 529.3000000000001,284.7 528.1,286.26" fill="#f39a2f"/>
<polygon points="526.9,287.09999999999997 529.3000000000001,287.09999999999997 528.1,285.53999999999996" fill="#f39a2f"/>
<text x="538.1" y="289.79999999999995" font-size="9.05">WT-ALKBH5+GEM+RA</text>
<line x1="522.8" y1="299.4" x2="533.5" y2="299.4" stroke="#2f9a42" stroke-width="1"/>
<polygon points="528.1,300.84 526.78,298.32 529.4200000000001,298.32" fill="#2f9a42"/>
<text x="538.1" y="303.29999999999995" font-size="9.05">Del-P#2-ALKBH5+GEM+RA</text>
<line x1="522.8" y1="313.0" x2="533.5" y2="313.0" stroke="#9a2fc4" stroke-width="1"/>
<rect x="526.9" y="311.8" width="2.4" height="2.4" fill="#9a2fc4" stroke="none" stroke-width="1"/>
<text x="538.1" y="316.9" font-size="9.05">WT-ALKBH5+WT-ZEB1+GEM+RA</text>
<text x="6.800000000000001" y="362.8" font-size="16" font-weight="bold" fill="#1a1414">E</text>
<line x1="70.4" y1="367.4" x2="70.4" y2="485.3" stroke="#3a3a3a" stroke-width="1"/>
<line x1="67.4" y1="367.4" x2="70.4" y2="367.4" stroke="#3a3a3a" stroke-width="1"/>
<text x="66.0" y="371.29999999999995" font-size="10.8" text-anchor="end">600</text>
<line x1="67.4" y1="406.7" x2="70.4" y2="406.7" stroke="#3a3a3a" stroke-width="1"/>
<text x="66.0" y="410.59999999999997" font-size="10.8" text-anchor="end">400</text>
<line x1="67.4" y1="446.4" x2="70.4" y2="446.4" stroke="#3a3a3a" stroke-width="1"/>
<text x="66.0" y="450.29999999999995" font-size="10.8" text-anchor="end">200</text>
<line x1="67.4" y1="485.3" x2="70.4" y2="485.3" stroke="#3a3a3a" stroke-width="1"/>
<text x="66.0" y="489.2" font-size="10.8" text-anchor="end">0</text>
<line x1="70.4" y1="485.3" x2="168.4" y2="485.3" stroke="#3a3a3a" stroke-width="1"/>
<text transform="translate(40.5,423.9) rotate(-90)" font-size="11" text-anchor="middle" textLength="120.4" lengthAdjust="spacingAndGlyphs">Caspase 3/7 activity (%)</text>
<rect x="78.8" y="465.5" width="13.400000000000006" height="19.80000000000001" fill="#e7dced" stroke="#b483cc" stroke-width="1"/>
<path d="M85.50,465.50V462.90M81.76,462.90H89.24" stroke="#b483cc" stroke-width="0.9" fill="none"/>
<circle cx="81.3" cy="465.5" r="2.0" fill="none" stroke="#b483cc" stroke-width="0.9"/>
<circle cx="85.5" cy="465.5" r="2.0" fill="none" stroke="#b483cc" stroke-width="0.9"/>
<circle cx="89.7" cy="465.5" r="2.0" fill="none" stroke="#b483cc" stroke-width="0.9"/>
<rect x="101.7" y="451.8" width="13.399999999999991" height="33.5" fill="#d8efee" stroke="#7fcfcf" stroke-width="1"/>
<path d="M108.40,451.80V449.20M104.66,449.20H112.14" stroke="#7fcfcf" stroke-width="0.9" fill="none"/>
<circle cx="104.2" cy="451.8" r="2.0" fill="none" stroke="#7fcfcf" stroke-width="0.9"/>
<circle cx="108.4" cy="450.8" r="2.0" fill="none" stroke="#7fcfcf" stroke-width="0.9"/>
<circle cx="112.60000000000001" cy="451.8" r="2.0" fill="none" stroke="#7fcfcf" stroke-width="0.9"/>
<rect x="124.0" y="421.0" width="13.400000000000006" height="64.30000000000001" fill="#f2cdc8" stroke="#e0624f" stroke-width="1"/>
<path d="M130.70,421.00V418.40M126.96,418.40H134.44" stroke="#e0624f" stroke-width="0.9" fill="none"/>
<circle cx="126.49999999999999" cy="423.0" r="2.0" fill="none" stroke="#e0624f" stroke-width="0.9"/>
<circle cx="130.7" cy="419.0" r="2.0" fill="none" stroke="#e0624f" stroke-width="0.9"/>
<circle cx="134.89999999999998" cy="420.5" r="2.0" fill="none" stroke="#e0624f" stroke-width="0.9"/>
<rect x="147.1" y="449.8" width="13.099999999999994" height="35.5" fill="#cdd6e9" stroke="#5b70b4" stroke-width="1"/>
<path d="M153.65,449.80V447.20M149.98,447.20H157.32" stroke="#5b70b4" stroke-width="0.9" fill="none"/>
<circle cx="149.4" cy="449.8" r="2.0" fill="none" stroke="#5b70b4" stroke-width="0.9"/>
<circle cx="153.6" cy="448.3" r="2.0" fill="none" stroke="#5b70b4" stroke-width="0.9"/>
<circle cx="157.79999999999998" cy="449.8" r="2.0" fill="none" stroke="#5b70b4" stroke-width="0.9"/>
<polyline points="84.5,461.5 84.5,442.4 108.1,442.4 108.1,445.6" fill="none" stroke="#6e6e6e" stroke-width="1"/>
<path d="M94.85,437.55L94.85,441.25M93.25,438.47L96.45,440.32M96.45,438.47L93.25,440.32" stroke="#2e2e2e" stroke-width="0.8" fill="none"/>
<path d="M98.75,437.55L98.75,441.25M97.15,438.47L100.35,440.32M100.35,438.47L97.15,440.32" stroke="#2e2e2e" stroke-width="0.8" fill="none"/>
<polyline points="108.1,438.9 108.1,411.9 131.5,411.9 131.5,414.6" fill="none" stroke="#6e6e6e" stroke-width="1"/>
<path d="M118.35,407.05L118.35,410.75M116.75,407.97L119.95,409.82M119.95,407.97L116.75,409.82" stroke="#2e2e2e" stroke-width="0.8" fill="none"/>
<path d="M122.25,407.05L122.25,410.75M120.65,407.97L123.85,409.82M123.85,407.97L120.65,409.82" stroke="#2e2e2e" stroke-width="0.8" fill="none"/>
<polyline points="131.0,411.6 131.0,405.2 154.0,405.2 154.0,446.9" fill="none" stroke="#6e6e6e" stroke-width="1"/>
<path d="M140.55,400.35L140.55,404.05M138.95,401.27L142.15,403.12M142.15,401.27L138.95,403.12" stroke="#2e2e2e" stroke-width="0.8" fill="none"/>
<path d="M144.45,400.35L144.45,404.05M142.85,401.27L146.05,403.12M146.05,401.27L142.85,403.12" stroke="#2e2e2e" stroke-width="0.8" fill="none"/>
<rect x="193.0" y="383.8" width="122.69999999999999" height="59.0" fill="#fff" stroke="#606060" stroke-width="1"/>
<circle cx="203" cy="392.1" r="1.9" fill="none" stroke="#b483cc" stroke-width="0.9"/>
<text x="213.9" y="395.8" font-size="9.05">Empty</text>
<circle cx="203" cy="406.3" r="1.9" fill="none" stroke="#7fcfcf" stroke-width="0.9"/>
<text x="213.9" y="410.0" font-size="9.05">Empty+GEM+RA</text>
<circle cx="203" cy="420.5" r="1.9" fill="none" stroke="#e0624f" stroke-width="0.9"/>
<text x="213.9" y="424.2" font-size="9.05">WT-ZEB1+GEM+RA</text>
<circle cx="203" cy="434.1" r="1.9" fill="none" stroke="#5b70b4" stroke-width="0.9"/>
<text x="213.9" y="437.8" font-size="9.05">Del-CP-ZEB1+GEM+RA</text>
<text x="324.4" y="362.2" font-size="16" font-weight="bold" fill="#1a1414">F</text>
<line x1="372.7" y1="369.1" x2="372.7" y2="486.5" stroke="#3a3a3a" stroke-width="1"/>
<line x1="369.7" y1="369.1" x2="372.7" y2="369.1" stroke="#3a3a3a" stroke-width="1"/>
<text x="368.3" y="373.0" font-size="10.8" text-anchor="end">600</text>
<line x1="369.7" y1="408.2" x2="372.7" y2="408.2" stroke="#3a3a3a" stroke-width="1"/>
<text x="368.3" y="412.09999999999997" font-size="10.8" text-anchor="end">400</text>
<line x1="369.7" y1="447.1" x2="372.7" y2="447.1" stroke="#3a3a3a" stroke-width="1"/>
<text x="368.3" y="451.0" font-size="10.8" text-anchor="end">200</text>
<line x1="369.7" y1="486.5" x2="372.7" y2="486.5" stroke="#3a3a3a" stroke-width="1"/>
<text x="368.3" y="490.4" font-size="10.8" text-anchor="end">0</text>
<line x1="372.7" y1="486.5" x2="510" y2="486.5" stroke="#3a3a3a" stroke-width="1"/>
<text transform="translate(344.2,425.5) rotate(-90)" font-size="11" text-anchor="middle" textLength="119.3" lengthAdjust="spacingAndGlyphs">Caspase 3/7 activity (%)</text>
<rect x="382.6" y="467.0" width="16.19999999999999" height="19.5" fill="#e7dced" stroke="#b483cc" stroke-width="1"/>
<path d="M390.70,467.00V464.40M386.23,464.40H395.17" stroke="#b483cc" stroke-width="0.9" fill="none"/>
<circle cx="385.7" cy="467.0" r="2.0" fill="none" stroke="#b483cc" stroke-width="0.9"/>
<circle cx="390.7" cy="467.0" r="2.0" fill="none" stroke="#b483cc" stroke-width="0.9"/>
<circle cx="395.7" cy="467.0" r="2.0" fill="none" stroke="#b483cc" stroke-width="0.9"/>
<rect x="408.7" y="453.2" width="15.699999999999989" height="33.30000000000001" fill="#d8efee" stroke="#7fcfcf" stroke-width="1"/>
<path d="M416.55,453.20V450.60M412.21,450.60H420.89" stroke="#7fcfcf" stroke-width="0.9" fill="none"/>
<circle cx="411.5" cy="453.2" r="2.0" fill="none" stroke="#7fcfcf" stroke-width="0.9"/>
<circle cx="416.5" cy="452.2" r="2.0" fill="none" stroke="#7fcfcf" stroke-width="0.9"/>
<circle cx="421.5" cy="453.2" r="2.0" fill="none" stroke="#7fcfcf" stroke-width="0.9"/>
<rect x="434.8" y="426.3" width="15.099999999999966" height="60.19999999999999" fill="#f2cdc8" stroke="#e0624f" stroke-width="1"/>
<path d="M442.35,426.30V423.70M438.16,423.70H446.54" stroke="#e0624f" stroke-width="0.9" fill="none"/>
<circle cx="437.3" cy="427.3" r="2.0" fill="none" stroke="#e0624f" stroke-width="0.9"/>
<circle cx="442.3" cy="424.8" r="2.0" fill="none" stroke="#e0624f" stroke-width="0.9"/>
<circle cx="447.3" cy="426.3" r="2.0" fill="none" stroke="#e0624f" stroke-width="0.9"/>
<rect x="460.0" y="450.4" width="15.699999999999989" height="36.10000000000002" fill="#cdd6e9" stroke="#5b70b4" stroke-width="1"/>
<path d="M467.85,450.40V447.80M463.51,447.80H472.19" stroke="#5b70b4" stroke-width="0.9" fill="none"/>
<circle cx="462.8" cy="450.4" r="2.0" fill="none" stroke="#5b70b4" stroke-width="0.9"/>
<circle cx="467.8" cy="448.9" r="2.0" fill="none" stroke="#5b70b4" stroke-width="0.9"/>
<circle cx="472.8" cy="450.4" r="2.0" fill="none" stroke="#5b70b4" stroke-width="0.9"/>
<rect x="486.1" y="398.5" width="15.599999999999966" height="88.0" fill="#d5eed3" stroke="#6cc46c" stroke-width="1"/>
<path d="M493.90,398.50V395.90M489.58,395.90H498.22" stroke="#6cc46c" stroke-width="0.9" fill="none"/>
<circle cx="488.9" cy="400.5" r="2.0" fill="none" stroke="#6cc46c" stroke-width="0.9"/>
<circle cx="493.9" cy="396.5" r="2.0" fill="none" stroke="#6cc46c" stroke-width="0.9"/>
<circle cx="498.9" cy="398.5" r="2.0" fill="none" stroke="#6cc46c" stroke-width="0.9"/>
<polyline points="390.7,462.9 390.7,442.6 416.5,442.6 416.5,447.6" fill="none" stroke="#6e6e6e" stroke-width="1"/>
<path d="M402.05,437.75L402.05,441.45M400.45,438.68L403.65,440.53M403.65,438.68L400.45,440.53" stroke="#2e2e2e" stroke-width="0.8" fill="none"/>
<path d="M405.95,437.75L405.95,441.45M404.35,438.68L407.55,440.53M407.55,438.68L404.35,440.53" stroke="#2e2e2e" stroke-width="0.8" fill="none"/>
<polyline points="416.5,439.3 416.5,416.6 442.0,416.6 442.0,424.0" fill="none" stroke="#6e6e6e" stroke-width="1"/>
<path d="M427.65,411.75L427.65,415.45M426.05,412.68L429.25,414.53M429.25,412.68L426.05,414.53" stroke="#2e2e2e" stroke-width="0.8" fill="none"/>
<path d="M431.55,411.75L431.55,415.45M429.95,412.68L433.15,414.53M433.15,412.68L429.95,414.53" stroke="#2e2e2e" stroke-width="0.8" fill="none"/>
<polyline points="442.6,420.0 442.6,409.6 468.4,409.6 468.4,446.2" fill="none" stroke="#6e6e6e" stroke-width="1"/>
<path d="M454.05,404.75L454.05,408.45M452.45,405.68L455.65,407.53M455.65,405.68L452.45,407.53" stroke="#2e2e2e" stroke-width="0.8" fill="none"/>
<path d="M457.95,404.75L457.95,408.45M456.35,405.68L459.55,407.53M459.55,405.68L456.35,407.53" stroke="#2e2e2e" stroke-width="0.8" fill="none"/>
<polyline points="442.6,409.6 442.6,390.2 493.9,390.2 493.9,395.0" fill="none" stroke="#6e6e6e" stroke-width="1"/>
<path d="M467.85,385.35L467.85,389.05M466.25,386.27L469.45,388.12M469.45,386.27L466.25,388.12" stroke="#2e2e2e" stroke-width="0.8" fill="none"/>
<path d="M471.75,385.35L471.75,389.05M470.15,386.27L473.35,388.12M473.35,386.27L470.15,388.12" stroke="#2e2e2e" stroke-width="0.8" fill="none"/>
<rect x="517.7" y="365.7" width="163.5" height="70.0" fill="#fff" stroke="#606060" stroke-width="1"/>
<circle cx="525.8" cy="372.9" r="1.9" fill="none" stroke="#b483cc" stroke-width="0.9"/>
<text x="537.6" y="376.2" font-size="9.05">Empty</text>
<circle cx="525.8" cy="386.4" r="1.9" fill="none" stroke="#7fcfcf" stroke-width="0.9"/>
<text x="537.6" y="389.7" font-size="9.05">Empty+GEM+RA</text>
<circle cx="525.8" cy="400.2" r="1.9" fill="none" stroke="#e0624f" stroke-width="0.9"/>
<text x="537.6" y="403.5" font-size="9.05">WT-ALKBH5+GEM+RA</text>
<circle cx="525.8" cy="413.8" r="1.9" fill="none" stroke="#5b70b4" stroke-width="0.9"/>
<text x="537.6" y="417.1" font-size="9.05">Del-P#2-ALKBH5+GEM+RA</text>
<circle cx="525.8" cy="428.3" r="1.9" fill="none" stroke="#6cc46c" stroke-width="0.9"/>
<text x="537.6" y="431.6" font-size="9.05">WT-ALKBH5+WT-ZEB1+GEM+RA</text>
<text x="5.5" y="507.0" font-size="16" font-weight="bold" fill="#1a1414">G</text>
<clipPath id="cc1"><rect x="56.6" y="532.7" width="65.69999999999999" height="48.799999999999955"/></clipPath>
<g clip-path="url(#cc1)">
<rect x="56.6" y="532.7" width="65.69999999999999" height="48.799999999999955" fill="#cdcdcd"/>
<ellipse cx="102" cy="560" rx="14" ry="12" fill="#6a6a6a" opacity="0.18" filter="url(#bl4)"/>
<g filter="url(#rough)">
<ellipse cx="62.4" cy="547.9" rx="5.170000000000001" ry="4.620000000000001" fill="rgb(85,85,85)"/>
<ellipse cx="61.1075" cy="546.976" rx="2.3265000000000002" ry="1.8480000000000005" fill="rgb(60,60,60)"/>
<ellipse cx="63.951" cy="549.055" rx="1.8095" ry="1.6170000000000002" fill="rgb(60,60,60)"/>
<ellipse cx="69.2" cy="558.9" rx="5.940000000000001" ry="8.25" fill="rgb(105,105,105)"/>
<ellipse cx="67.715" cy="557.25" rx="2.6730000000000005" ry="3.3000000000000003" fill="rgb(80,80,80)"/>
<ellipse cx="70.982" cy="560.9625" rx="2.079" ry="2.8874999999999997" fill="rgb(80,80,80)"/>
<ellipse cx="84.0" cy="551.5" rx="5.5" ry="4.620000000000001" fill="rgb(80,80,80)"/>
<ellipse cx="82.625" cy="550.576" rx="2.475" ry="1.8480000000000005" fill="rgb(55,55,55)"/>
<ellipse cx="85.65" cy="552.655" rx="1.9249999999999998" ry="1.6170000000000002" fill="rgb(55,55,55)"/>
<ellipse cx="111.3" cy="555.2" rx="4.4" ry="4.95" fill="rgb(90,90,90)"/>
<ellipse cx="110.2" cy="554.21" rx="1.9800000000000002" ry="1.9800000000000002" fill="rgb(65,65,65)"/>
<ellipse cx="112.61999999999999" cy="556.4375" rx="1.54" ry="1.7325" fill="rgb(65,65,65)"/>
<ellipse cx="84.5" cy="566.8" rx="3.9600000000000004" ry="3.5200000000000005" fill="rgb(90,90,90)"/>
<ellipse cx="83.51" cy="566.096" rx="1.7820000000000003" ry="1.4080000000000004" fill="rgb(65,65,65)"/>
<ellipse cx="85.688" cy="567.68" rx="1.3860000000000001" ry="1.232" fill="rgb(65,65,65)"/>
<ellipse cx="70.8" cy="576.2" rx="5.83" ry="3.74" fill="rgb(80,80,80)"/>
<ellipse cx="69.3425" cy="575.452" rx="2.6235" ry="1.4960000000000002" fill="rgb(55,55,55)"/>
<ellipse cx="72.54899999999999" cy="577.135" rx="2.0404999999999998" ry="1.309" fill="rgb(55,55,55)"/>
<ellipse cx="81.9" cy="577.8" rx="3.5200000000000005" ry="3.3000000000000003" fill="rgb(95,95,95)"/>
<ellipse cx="81.02000000000001" cy="577.14" rx="1.5840000000000003" ry="1.3200000000000003" fill="rgb(70,70,70)"/>
<ellipse cx="82.956" cy="578.625" rx="1.232" ry="1.155" fill="rgb(70,70,70)"/>
<ellipse cx="72.4" cy="534.4" rx="2.75" ry="1.6500000000000001" fill="rgb(80,80,80)"/>
<ellipse cx="71.7125" cy="534.0699999999999" rx="1.2375" ry="0.6600000000000001" fill="rgb(55,55,55)"/>
<ellipse cx="73.22500000000001" cy="534.8125" rx="0.9624999999999999" ry="0.5775" fill="rgb(55,55,55)"/>
<ellipse cx="97.6" cy="548.4" rx="2.2" ry="1.32" fill="rgb(100,100,100)"/>
<ellipse cx="113.4" cy="578.3" rx="3.3000000000000003" ry="2.8600000000000003" fill="rgb(85,85,85)"/>
<ellipse cx="112.575" cy="577.728" rx="1.485" ry="1.1440000000000001" fill="rgb(60,60,60)"/>
<ellipse cx="114.39" cy="579.015" rx="1.155" ry="1.0010000000000001" fill="rgb(60,60,60)"/>
<ellipse cx="120.7" cy="566.3" rx="1.7600000000000002" ry="1.9800000000000002" fill="rgb(90,90,90)"/>
<ellipse cx="76.5" cy="572.0" rx="2.75" ry="2.75" fill="rgb(110,110,110)"/>
<ellipse cx="75.8125" cy="571.45" rx="1.2375" ry="1.1" fill="rgb(85,85,85)"/>
<ellipse cx="77.325" cy="572.6875" rx="0.9624999999999999" ry="0.9624999999999999" fill="rgb(85,85,85)"/>
</g>
<rect x="56.6" y="532.7" width="65.69999999999999" height="48.799999999999955" fill="#888" opacity="0.2" filter="url(#noise)"/>
<line x1="103.9" y1="574.4" x2="117.8" y2="574.4" stroke="#2b1a1a" stroke-width="1.4"/>
</g>
<clipPath id="cc2"><rect x="126.0" y="532.7" width="65.6" height="48.799999999999955"/></clipPath>
<g clip-path="url(#cc2)">
<rect x="126.0" y="532.7" width="65.6" height="48.799999999999955" fill="#d6d6d6"/>
<g filter="url(#rough)">
<ellipse cx="139.8" cy="534.7" rx="2.75" ry="2.2" fill="rgb(100,100,100)"/>
<ellipse cx="139.1125" cy="534.26" rx="1.2375" ry="0.8800000000000001" fill="rgb(75,75,75)"/>
<ellipse cx="140.625" cy="535.25" rx="0.9624999999999999" ry="0.77" fill="rgb(75,75,75)"/>
<ellipse cx="154.5" cy="540.0" rx="3.8500000000000005" ry="2.75" fill="rgb(110,110,110)"/>
<ellipse cx="153.5375" cy="539.45" rx="1.7325000000000004" ry="1.1" fill="rgb(85,85,85)"/>
<ellipse cx="155.655" cy="540.6875" rx="1.3475000000000001" ry="0.9624999999999999" fill="rgb(85,85,85)"/>
<ellipse cx="168.1" cy="537.9" rx="4.4" ry="3.8500000000000005" fill="rgb(110,110,110)"/>
<ellipse cx="167.0" cy="537.13" rx="1.9800000000000002" ry="1.5400000000000003" fill="rgb(85,85,85)"/>
<ellipse cx="169.42" cy="538.8625" rx="1.54" ry="1.3475000000000001" fill="rgb(85,85,85)"/>
<ellipse cx="173.4" cy="540.5" rx="3.8500000000000005" ry="3.63" fill="rgb(90,90,90)"/>
<ellipse cx="172.4375" cy="539.774" rx="1.7325000000000004" ry="1.452" fill="rgb(65,65,65)"/>
<ellipse cx="174.555" cy="541.4075" rx="1.3475000000000001" ry="1.2705" fill="rgb(65,65,65)"/>
<ellipse cx="187.1" cy="542.6" rx="2.2" ry="2.2" fill="rgb(110,110,110)"/>
<ellipse cx="150.8" cy="548.9" rx="2.75" ry="2.2" fill="rgb(95,95,95)"/>
<ellipse cx="150.1125" cy="548.4599999999999" rx="1.2375" ry="0.8800000000000001" fill="rgb(70,70,70)"/>
<ellipse cx="151.625" cy="549.4499999999999" rx="0.9624999999999999" ry="0.77" fill="rgb(70,70,70)"/>
<ellipse cx="156.6" cy="550.0" rx="1.32" ry="2.2" fill="rgb(110,110,110)"/>
<ellipse cx="147.6" cy="561.5" rx="3.3000000000000003" ry="2.53" fill="rgb(60,60,60)"/>
<ellipse cx="146.775" cy="560.994" rx="1.485" ry="1.012" fill="rgb(35,35,35)"/>
<ellipse cx="148.59" cy="562.1325" rx="1.155" ry="0.8854999999999998" fill="rgb(35,35,35)"/>
<ellipse cx="155.0" cy="565.7" rx="2.75" ry="2.8600000000000003" fill="rgb(95,95,95)"/>
<ellipse cx="154.3125" cy="565.128" rx="1.2375" ry="1.1440000000000001" fill="rgb(70,70,70)"/>
<ellipse cx="155.825" cy="566.4150000000001" rx="0.9624999999999999" ry="1.0010000000000001" fill="rgb(70,70,70)"/>
<ellipse cx="167.1" cy="558.9" rx="2.2" ry="1.7600000000000002" fill="rgb(150,150,150)"/>
<ellipse cx="159.7" cy="577.8" rx="3.3000000000000003" ry="3.3000000000000003" fill="rgb(70,70,70)"/>
<ellipse cx="158.875" cy="577.14" rx="1.485" ry="1.3200000000000003" fill="rgb(45,45,45)"/>
<ellipse cx="160.69" cy="578.625" rx="1.155" ry="1.155" fill="rgb(45,45,45)"/>
<ellipse cx="138.7" cy="580.5" rx="2.2" ry="1.32" fill="rgb(110,110,110)"/>
<ellipse cx="189.7" cy="578.9" rx="1.54" ry="1.54" fill="rgb(90,90,90)"/>
<ellipse cx="126.6" cy="570.0" rx="1.1" ry="1.32" fill="rgb(90,90,90)"/>
</g>
<rect x="126.0" y="532.7" width="65.6" height="48.799999999999955" fill="#888" opacity="0.2" filter="url(#noise)"/>
<line x1="173.4" y1="574.7" x2="187.1" y2="574.7" stroke="#2b1a1a" stroke-width="1.4"/>
</g>
<clipPath id="cc3"><rect x="194.9" y="532.7" width="65.6" height="48.799999999999955"/></clipPath>
<g clip-path="url(#cc3)">
<rect x="194.9" y="532.7" width="65.6" height="48.799999999999955" fill="#dedede"/>
<g filter="url(#rough)">
<ellipse cx="211.4" cy="536.8" rx="1.6500000000000001" ry="1.6500000000000001" fill="rgb(100,100,100)"/>
<ellipse cx="233.5" cy="543.7" rx="3.3000000000000003" ry="1.32" fill="rgb(110,110,110)"/>
<ellipse cx="232.675" cy="543.436" rx="1.485" ry="0.528" fill="rgb(85,85,85)"/>
<ellipse cx="234.49" cy="544.0300000000001" rx="1.155" ry="0.46199999999999997" fill="rgb(85,85,85)"/>
<ellipse cx="226.7" cy="553.1" rx="1.1" ry="1.1" fill="rgb(110,110,110)"/>
<ellipse cx="226.2" cy="558.4" rx="1.6500000000000001" ry="1.54" fill="rgb(100,100,100)"/>
<ellipse cx="212.0" cy="568.4" rx="2.2" ry="2.2" fill="rgb(100,100,100)"/>
<ellipse cx="221.4" cy="571.5" rx="1.32" ry="1.32" fill="rgb(110,110,110)"/>
<ellipse cx="211.4" cy="578.9" rx="1.6500000000000001" ry="1.6500000000000001" fill="rgb(120,120,120)"/>
<ellipse cx="257.2" cy="535.3" rx="2.2" ry="2.2" fill="rgb(120,120,120)"/>
<ellipse cx="249.8" cy="562.6" rx="2.2" ry="2.2" fill="rgb(175,175,175)"/>
<ellipse cx="230.4" cy="574.1" rx="0.8800000000000001" ry="0.8800000000000001" fill="rgb(100,100,100)"/>
<ellipse cx="196.4" cy="538.4" rx="1.1" ry="1.32" fill="rgb(110,110,110)"/>
</g>
<rect x="194.9" y="532.7" width="65.6" height="48.799999999999955" fill="#888" opacity="0.2" filter="url(#noise)"/>
<line x1="242.2" y1="574.7" x2="256.3" y2="574.7" stroke="#2b1a1a" stroke-width="1.4"/>
</g>
<clipPath id="cc4"><rect x="263.8" y="532.7" width="65.69999999999999" height="48.799999999999955"/></clipPath>
<g clip-path="url(#cc4)">
<rect x="263.8" y="532.7" width="65.69999999999999" height="48.799999999999955" fill="#cecece"/>
<ellipse cx="270.5" cy="560" rx="5" ry="6" fill="#6a6a6a" opacity="0.35" filter="url(#bl4)"/>
<ellipse cx="303.6" cy="574.7" rx="4" ry="3.5" fill="#6a6a6a" opacity="0.45" filter="url(#bl4)"/>
<ellipse cx="273.7" cy="575.2" rx="6" ry="6" fill="#6a6a6a" opacity="0.3" filter="url(#bl4)"/>
<ellipse cx="318.9" cy="565.7" rx="4" ry="4" fill="#6a6a6a" opacity="0.2" filter="url(#bl4)"/>
<g filter="url(#rough)">
<ellipse cx="274.2" cy="540.5" rx="3.63" ry="3.3000000000000003" fill="rgb(80,80,80)"/>
<ellipse cx="273.29249999999996" cy="539.84" rx="1.6335" ry="1.3200000000000003" fill="rgb(55,55,55)"/>
<ellipse cx="275.289" cy="541.325" rx="1.2705" ry="1.155" fill="rgb(55,55,55)"/>
<ellipse cx="281.5" cy="559.4" rx="3.8500000000000005" ry="4.4" fill="rgb(70,70,70)"/>
<ellipse cx="280.5375" cy="558.52" rx="1.7325000000000004" ry="1.7600000000000002" fill="rgb(45,45,45)"/>
<ellipse cx="282.655" cy="560.5" rx="1.3475000000000001" ry="1.54" fill="rgb(45,45,45)"/>
<ellipse cx="274.7" cy="553.6" rx="3.3000000000000003" ry="2.75" fill="rgb(130,130,130)"/>
<ellipse cx="273.875" cy="553.0500000000001" rx="1.485" ry="1.1" fill="rgb(105,105,105)"/>
<ellipse cx="275.69" cy="554.2875" rx="1.155" ry="0.9624999999999999" fill="rgb(105,105,105)"/>
<ellipse cx="317.3" cy="548.9" rx="2.75" ry="3.3000000000000003" fill="rgb(105,105,105)"/>
<ellipse cx="316.6125" cy="548.24" rx="1.2375" ry="1.3200000000000003" fill="rgb(80,80,80)"/>
<ellipse cx="318.125" cy="549.725" rx="0.9624999999999999" ry="1.155" fill="rgb(80,80,80)"/>
<ellipse cx="326.7" cy="535.8" rx="2.75" ry="2.75" fill="rgb(110,110,110)"/>
<ellipse cx="326.0125" cy="535.25" rx="1.2375" ry="1.1" fill="rgb(85,85,85)"/>
<ellipse cx="327.525" cy="536.4875" rx="0.9624999999999999" ry="0.9624999999999999" fill="rgb(85,85,85)"/>
<ellipse cx="323.1" cy="563.6" rx="1.6500000000000001" ry="1.6500000000000001" fill="rgb(110,110,110)"/>
<ellipse cx="327.3" cy="568.4" rx="2.75" ry="3.8500000000000005" fill="rgb(70,70,70)"/>
<ellipse cx="326.6125" cy="567.63" rx="1.2375" ry="1.5400000000000003" fill="rgb(45,45,45)"/>
<ellipse cx="328.125" cy="569.3625" rx="0.9624999999999999" ry="1.3475000000000001" fill="rgb(45,45,45)"/>
<ellipse cx="328.3" cy="577.3" rx="1.6500000000000001" ry="2.75" fill="rgb(90,90,90)"/>
</g>
<rect x="263.8" y="532.7" width="65.69999999999999" height="48.799999999999955" fill="#888" opacity="0.2" filter="url(#noise)"/>
<line x1="311.2" y1="574.7" x2="324.9" y2="574.7" stroke="#2b1a1a" stroke-width="1.4"/>
</g>
<text x="89.9" y="595.0" font-size="11" text-anchor="middle">G1</text>
<text x="159.7" y="595.0" font-size="11" text-anchor="middle">G2</text>
<text x="228.9" y="595.0" font-size="11" text-anchor="middle">G3</text>
<text x="297.9" y="595.0" font-size="11" text-anchor="middle">G4</text>
<line x1="416.0" y1="499.9" x2="416.0" y2="613.3" stroke="#3a3a3a" stroke-width="1"/>
<line x1="413.0" y1="499.9" x2="416.0" y2="499.9" stroke="#3a3a3a" stroke-width="1"/>
<text x="413.6" y="503.79999999999995" font-size="11" text-anchor="end">120</text>
<line x1="413.0" y1="537.5" x2="416.0" y2="537.5" stroke="#3a3a3a" stroke-width="1"/>
<text x="413.6" y="541.4" font-size="11" text-anchor="end">80</text>
<line x1="413.0" y1="575.4" x2="416.0" y2="575.4" stroke="#3a3a3a" stroke-width="1"/>
<text x="413.6" y="579.3" font-size="11" text-anchor="end">40</text>
<line x1="413.0" y1="613.3" x2="416.0" y2="613.3" stroke="#3a3a3a" stroke-width="1"/>
<text x="413.6" y="617.1999999999999" font-size="11" text-anchor="end">0</text>
<line x1="416.0" y1="613.3" x2="493.7" y2="613.3" stroke="#3a3a3a" stroke-width="1"/>
<text transform="translate(390.0,555.0) rotate(-90)" font-size="11" text-anchor="middle" textLength="99.7" lengthAdjust="spacingAndGlyphs">Colony fomation (%)</text>
<rect x="422.6" y="517.4" width="10.799999999999955" height="95.89999999999998" fill="#e7dced" stroke="#b483cc" stroke-width="1"/>
<path d="M428.00,517.40V514.80M424.93,514.80H431.07" stroke="#b483cc" stroke-width="0.9" fill="none"/>
<circle cx="424.5" cy="516.3" r="2.0" fill="none" stroke="#b483cc" stroke-width="0.9"/>
<circle cx="428" cy="519.5" r="2.0" fill="none" stroke="#b483cc" stroke-width="0.9"/>
<circle cx="431.5" cy="517.8" r="2.0" fill="none" stroke="#b483cc" stroke-width="0.9"/>
<circle cx="426" cy="521" r="2.0" fill="none" stroke="#b483cc" stroke-width="0.9"/>
<rect x="440.6" y="564.4" width="10.599999999999966" height="48.89999999999998" fill="#d8efee" stroke="#7fcfcf" stroke-width="1"/>
<path d="M445.90,564.40V561.80M442.88,561.80H448.92" stroke="#7fcfcf" stroke-width="0.9" fill="none"/>
<circle cx="442.5" cy="562.5" r="2.0" fill="none" stroke="#7fcfcf" stroke-width="0.9"/>
<circle cx="446" cy="565.5" r="2.0" fill="none" stroke="#7fcfcf" stroke-width="0.9"/>
<circle cx="449.5" cy="564.5" r="2.0" fill="none" stroke="#7fcfcf" stroke-width="0.9"/>
<rect x="458.7" y="601.7" width="10.600000000000023" height="11.599999999999909" fill="#f2cdc8" stroke="#e0624f" stroke-width="1"/>
<path d="M464.00,601.70V599.10M460.98,599.10H467.02" stroke="#e0624f" stroke-width="0.9" fill="none"/>
<circle cx="460.5" cy="603" r="2.0" fill="none" stroke="#e0624f" stroke-width="0.9"/>
<circle cx="464" cy="600.5" r="2.0" fill="none" stroke="#e0624f" stroke-width="0.9"/>
<circle cx="467.5" cy="602" r="2.0" fill="none" stroke="#e0624f" stroke-width="0.9"/>
<rect x="476.7" y="566.6" width="10.400000000000034" height="46.69999999999993" fill="#cdd6e9" stroke="#5b70b4" stroke-width="1"/>
<path d="M481.90,566.60V564.00M478.94,564.00H484.86" stroke="#5b70b4" stroke-width="0.9" fill="none"/>
<circle cx="478.5" cy="567.5" r="2.0" fill="none" stroke="#5b70b4" stroke-width="0.9"/>
<circle cx="482" cy="565.5" r="2.0" fill="none" stroke="#5b70b4" stroke-width="0.9"/>
<circle cx="485.5" cy="566.5" r="2.0" fill="none" stroke="#5b70b4" stroke-width="0.9"/>
<polyline points="428.0,514.0 428.0,511.5 445.5,511.5 445.5,550.2" fill="none" stroke="#6e6e6e" stroke-width="1"/>
<path d="M434.55,506.65L434.55,510.35M432.95,507.57L436.15,509.43M436.15,507.57L432.95,509.43" stroke="#2e2e2e" stroke-width="0.8" fill="none"/>
<path d="M438.45,506.65L438.45,510.35M436.85,507.57L440.05,509.43M440.05,507.57L436.85,509.43" stroke="#2e2e2e" stroke-width="0.8" fill="none"/>
<polyline points="445.5,560.0 445.5,556.8 463.7,556.8 463.7,595.1" fill="none" stroke="#6e6e6e" stroke-width="1"/>
<path d="M452.35,551.95L452.35,555.65M450.75,552.88L453.95,554.72M453.95,552.88L450.75,554.72" stroke="#2e2e2e" stroke-width="0.8" fill="none"/>
<path d="M456.25,551.95L456.25,555.65M454.65,552.88L457.85,554.72M457.85,552.88L454.65,554.72" stroke="#2e2e2e" stroke-width="0.8" fill="none"/>
<polyline points="464.2,553.5 464.2,551.3 482.8,551.3 482.8,563.4" fill="none" stroke="#6e6e6e" stroke-width="1"/>
<path d="M470.95,546.45L470.95,550.15M469.35,547.38L472.55,549.22M472.55,547.38L469.35,549.22" stroke="#2e2e2e" stroke-width="0.8" fill="none"/>
<path d="M474.85,546.45L474.85,550.15M473.25,547.38L476.45,549.22M476.45,547.38L473.25,549.22" stroke="#2e2e2e" stroke-width="0.8" fill="none"/>
<text x="429.0" y="622.3" font-size="8.6" text-anchor="middle">G1</text>
<text x="446.1" y="622.3" font-size="8.6" text-anchor="middle">G2</text>
<text x="464.5" y="622.3" font-size="8.6" text-anchor="middle">G3</text>
<text x="481.6" y="622.3" font-size="8.6" text-anchor="middle">G4</text>
<rect x="518.8" y="508.8" width="123.20000000000005" height="57.900000000000034" fill="#fff" stroke="#606060" stroke-width="1"/>
<text x="521.0" y="520.4" font-size="9.05">G1</text>
<text x="540.0" y="520.4" font-size="9.05">Empty</text>
<text x="521.0" y="533.9" font-size="9.05">G2</text>
<text x="540.0" y="533.9" font-size="9.05">Empty+GEM+RA</text>
<text x="521.0" y="548.2" font-size="9.05">G3</text>
<text x="540.0" y="548.2" font-size="9.05">WT-ZEB1+GEM+RA</text>
<text x="521.0" y="561.7" font-size="9.05">G4</text>
<text x="540.0" y="561.7" font-size="9.05">Del-CP-ZEB1+GEM+RA</text>
<text x="6.4" y="636.8" font-size="16" font-weight="bold" fill="#1a1414">H</text>
<clipPath id="cc5"><rect x="22.3" y="660.6" width="66.2" height="49.10000000000002"/></clipPath>
<g clip-path="url(#cc5)">
<rect x="22.3" y="660.6" width="66.2" height="49.10000000000002" fill="#c9c9c9"/>
<ellipse cx="28" cy="690" rx="8" ry="20" fill="#6a6a6a" opacity="0.25" filter="url(#bl4)"/>
<g filter="url(#rough)">
<ellipse cx="30.0" cy="672.7" rx="5.5" ry="5.5" fill="rgb(95,95,95)"/>
<ellipse cx="28.625" cy="671.6" rx="2.475" ry="2.2" fill="rgb(70,70,70)"/>
<ellipse cx="31.65" cy="674.075" rx="1.9249999999999998" ry="1.9249999999999998" fill="rgb(70,70,70)"/>
<ellipse cx="58.9" cy="664.8" rx="5.5" ry="4.95" fill="rgb(100,100,100)"/>
<ellipse cx="57.525" cy="663.81" rx="2.475" ry="1.9800000000000002" fill="rgb(75,75,75)"/>
<ellipse cx="60.55" cy="666.0374999999999" rx="1.9249999999999998" ry="1.7325" fill="rgb(75,75,75)"/>
<ellipse cx="51.5" cy="685.3" rx="6.050000000000001" ry="6.6000000000000005" fill="rgb(105,105,105)"/>
<ellipse cx="49.9875" cy="683.9799999999999" rx="2.7225000000000006" ry="2.6400000000000006" fill="rgb(80,80,80)"/>
<ellipse cx="53.315" cy="686.9499999999999" rx="2.1175" ry="2.31" fill="rgb(80,80,80)"/>
<ellipse cx="36.8" cy="698.5" rx="4.4" ry="3.8500000000000005" fill="rgb(70,70,70)"/>
<ellipse cx="35.699999999999996" cy="697.73" rx="1.9800000000000002" ry="1.5400000000000003" fill="rgb(45,45,45)"/>
<ellipse cx="38.12" cy="699.4625" rx="1.54" ry="1.3475000000000001" fill="rgb(45,45,45)"/>
<ellipse cx="52.6" cy="699.5" rx="4.4" ry="5.5" fill="rgb(100,100,100)"/>
<ellipse cx="51.5" cy="698.4" rx="1.9800000000000002" ry="2.2" fill="rgb(75,75,75)"/>
<ellipse cx="53.92" cy="700.875" rx="1.54" ry="1.9249999999999998" fill="rgb(75,75,75)"/>
<ellipse cx="39.4" cy="692.2" rx="3.3000000000000003" ry="3.3000000000000003" fill="rgb(140,140,140)"/>
<ellipse cx="38.574999999999996" cy="691.5400000000001" rx="1.485" ry="1.3200000000000003" fill="rgb(115,115,115)"/>
<ellipse cx="40.39" cy="693.0250000000001" rx="1.155" ry="1.155" fill="rgb(115,115,115)"/>
<ellipse cx="79.4" cy="679.0" rx="3.3000000000000003" ry="3.3000000000000003" fill="rgb(100,100,100)"/>
<ellipse cx="78.575" cy="678.34" rx="1.485" ry="1.3200000000000003" fill="rgb(75,75,75)"/>
<ellipse cx="80.39" cy="679.825" rx="1.155" ry="1.155" fill="rgb(75,75,75)"/>
<ellipse cx="28.9" cy="662.2" rx="2.75" ry="1.6500000000000001" fill="rgb(110,110,110)"/>
<ellipse cx="28.2125" cy="661.87" rx="1.2375" ry="0.6600000000000001" fill="rgb(85,85,85)"/>
<ellipse cx="29.724999999999998" cy="662.6125000000001" rx="0.9624999999999999" ry="0.5775" fill="rgb(85,85,85)"/>
<ellipse cx="71.5" cy="662.2" rx="2.2" ry="1.6500000000000001" fill="rgb(120,120,120)"/>
<ellipse cx="87.3" cy="673.8" rx="1.1" ry="1.6500000000000001" fill="rgb(110,110,110)"/>
<ellipse cx="81.0" cy="707.4" rx="3.3000000000000003" ry="2.2" fill="rgb(110,110,110)"/>
<ellipse cx="80.175" cy="706.9599999999999" rx="1.485" ry="0.8800000000000001" fill="rgb(85,85,85)"/>
<ellipse cx="81.99" cy="707.9499999999999" rx="1.155" ry="0.77" fill="rgb(85,85,85)"/>
<ellipse cx="70.5" cy="704.2" rx="3.3000000000000003" ry="2.75" fill="rgb(110,110,110)"/>
<ellipse cx="69.675" cy="703.6500000000001" rx="1.485" ry="1.1" fill="rgb(85,85,85)"/>
<ellipse cx="71.49" cy="704.8875" rx="1.155" ry="0.9624999999999999" fill="rgb(85,85,85)"/>
</g>
<rect x="22.3" y="660.6" width="66.2" height="49.10000000000002" fill="#888" opacity="0.2" filter="url(#noise)"/>
<line x1="70.5" y1="702.4" x2="85.7" y2="702.4" stroke="#2b1a1a" stroke-width="1.4"/>
</g>
<clipPath id="cc6"><rect x="91.9" y="660.6" width="65.9" height="49.10000000000002"/></clipPath>
<g clip-path="url(#cc6)">
<rect x="91.9" y="660.6" width="65.9" height="49.10000000000002" fill="#c4c4c4"/>
<ellipse cx="135" cy="672" rx="18" ry="10" fill="#6a6a6a" opacity="0.25" filter="url(#bl4)"/>
<g filter="url(#rough)">
<ellipse cx="97.9" cy="671.1" rx="3.3000000000000003" ry="2.2" fill="rgb(30,30,30)"/>
<ellipse cx="97.075" cy="670.66" rx="1.485" ry="0.8800000000000001" fill="rgb(20,20,20)"/>
<ellipse cx="98.89" cy="671.65" rx="1.155" ry="0.77" fill="rgb(20,20,20)"/>
<ellipse cx="111.5" cy="674.3" rx="3.63" ry="3.63" fill="rgb(90,90,90)"/>
<ellipse cx="110.5925" cy="673.574" rx="1.6335" ry="1.452" fill="rgb(65,65,65)"/>
<ellipse cx="112.589" cy="675.2075" rx="1.2705" ry="1.2705" fill="rgb(65,65,65)"/>
<ellipse cx="109.4" cy="668.0" rx="1.6500000000000001" ry="1.6500000000000001" fill="rgb(110,110,110)"/>
<ellipse cx="125.2" cy="689.5" rx="4.18" ry="4.18" fill="rgb(95,95,95)"/>
<ellipse cx="124.155" cy="688.664" rx="1.881" ry="1.672" fill="rgb(70,70,70)"/>
<ellipse cx="126.45400000000001" cy="690.545" rx="1.4629999999999999" ry="1.4629999999999999" fill="rgb(70,70,70)"/>
<ellipse cx="144.7" cy="684.8" rx="2.9700000000000006" ry="3.3000000000000003" fill="rgb(100,100,100)"/>
<ellipse cx="143.95749999999998" cy="684.14" rx="1.3365000000000002" ry="1.3200000000000003" fill="rgb(75,75,75)"/>
<ellipse cx="145.59099999999998" cy="685.625" rx="1.0395" ry="1.155" fill="rgb(75,75,75)"/>
<ellipse cx="104.7" cy="697.4" rx="3.63" ry="3.63" fill="rgb(35,35,35)"/>
<ellipse cx="103.7925" cy="696.674" rx="1.6335" ry="1.452" fill="rgb(20,20,20)"/>
<ellipse cx="105.789" cy="698.3075" rx="1.2705" ry="1.2705" fill="rgb(20,20,20)"/>
<ellipse cx="153.1" cy="696.9" rx="3.8500000000000005" ry="4.95" fill="rgb(75,75,75)"/>
<ellipse cx="152.1375" cy="695.91" rx="1.7325000000000004" ry="1.9800000000000002" fill="rgb(50,50,50)"/>
<ellipse cx="154.255" cy="698.1374999999999" rx="1.3475000000000001" ry="1.7325" fill="rgb(50,50,50)"/>
<ellipse cx="145.2" cy="662.2" rx="5.5" ry="2.2" fill="rgb(70,70,70)"/>
<ellipse cx="143.825" cy="661.76" rx="2.475" ry="0.8800000000000001" fill="rgb(45,45,45)"/>
<ellipse cx="146.85" cy="662.75" rx="1.9249999999999998" ry="0.77" fill="rgb(45,45,45)"/>
<ellipse cx="143.6" cy="691.1" rx="1.1" ry="1.1" fill="rgb(120,120,120)"/>
</g>
<rect x="91.9" y="660.6" width="65.9" height="49.10000000000002" fill="#888" opacity="0.2" filter="url(#noise)"/>
<line x1="140.2" y1="702.5" x2="154.3" y2="702.5" stroke="#2b1a1a" stroke-width="1.4"/>
</g>
<clipPath id="cc7"><rect x="161.2" y="660.6" width="65.60000000000002" height="49.10000000000002"/></clipPath>
<g clip-path="url(#cc7)">
<rect x="161.2" y="660.6" width="65.60000000000002" height="49.10000000000002" fill="#d9d9d9"/>
<g filter="url(#rough)">
<ellipse cx="189.5" cy="675.3" rx="2.2" ry="2.2" fill="rgb(100,100,100)"/>
<ellipse cx="173.2" cy="674.8" rx="1.4300000000000002" ry="1.4300000000000002" fill="rgb(110,110,110)"/>
<ellipse cx="170.1" cy="683.2" rx="2.2" ry="2.2" fill="rgb(110,110,110)"/>
<ellipse cx="177.4" cy="689.5" rx="2.2" ry="2.2" fill="rgb(110,110,110)"/>
<ellipse cx="180.1" cy="686.9" rx="1.6500000000000001" ry="1.6500000000000001" fill="rgb(120,120,120)"/>
<ellipse cx="183.2" cy="685.5" rx="1.32" ry="1.32" fill="rgb(130,130,130)"/>
<ellipse cx="169.0" cy="695.3" rx="2.2" ry="2.2" fill="rgb(110,110,110)"/>
<ellipse cx="164.3" cy="691.6" rx="1.6500000000000001" ry="1.6500000000000001" fill="rgb(120,120,120)"/>
<ellipse cx="172.7" cy="702.7" rx="1.4300000000000002" ry="1.4300000000000002" fill="rgb(130,130,130)"/>
<ellipse cx="199.0" cy="692.2" rx="1.6500000000000001" ry="1.6500000000000001" fill="rgb(150,150,150)"/>
<ellipse cx="214.2" cy="668.0" rx="2.2" ry="1.6500000000000001" fill="rgb(130,130,130)"/>
<ellipse cx="216.9" cy="673.8" rx="1.6500000000000001" ry="1.6500000000000001" fill="rgb(110,110,110)"/>
<ellipse cx="218.4" cy="685.3" rx="1.6500000000000001" ry="1.6500000000000001" fill="rgb(150,150,150)"/>
<ellipse cx="221.0" cy="699.0" rx="3.3000000000000003" ry="3.3000000000000003" fill="rgb(160,160,160)"/>
<ellipse cx="220.175" cy="698.34" rx="1.485" ry="1.3200000000000003" fill="rgb(135,135,135)"/>
<ellipse cx="221.99" cy="699.825" rx="1.155" ry="1.155" fill="rgb(135,135,135)"/>
<ellipse cx="211.1" cy="706.4" rx="1.6500000000000001" ry="1.6500000000000001" fill="rgb(120,120,120)"/>
</g>
<rect x="161.2" y="660.6" width="65.60000000000002" height="49.10000000000002" fill="#888" opacity="0.2" filter="url(#noise)"/>
<line x1="208.2" y1="702.5" x2="222.3" y2="702.5" stroke="#2b1a1a" stroke-width="1.4"/>
</g>
<clipPath id="cc8"><rect x="230.3" y="660.6" width="65.5" height="49.10000000000002"/></clipPath>
<g clip-path="url(#cc8)">
<rect x="230.3" y="660.6" width="65.5" height="49.10000000000002" fill="#cfcfcf"/>
<ellipse cx="238" cy="668" rx="10" ry="8" fill="#6a6a6a" opacity="0.3" filter="url(#bl4)"/>
<ellipse cx="256.4" cy="708.5" rx="6" ry="3" fill="#6a6a6a" opacity="0.3" filter="url(#bl4)"/>
<g filter="url(#rough)">
<ellipse cx="266.9" cy="669.0" rx="2.75" ry="2.75" fill="rgb(40,40,40)"/>
<ellipse cx="266.2125" cy="668.45" rx="1.2375" ry="1.1" fill="rgb(20,20,20)"/>
<ellipse cx="267.72499999999997" cy="669.6875" rx="0.9624999999999999" ry="0.9624999999999999" fill="rgb(20,20,20)"/>
<ellipse cx="272.1" cy="671.1" rx="2.2" ry="2.2" fill="rgb(100,100,100)"/>
<ellipse cx="281.6" cy="665.9" rx="1.87" ry="1.87" fill="rgb(120,120,120)"/>
<ellipse cx="286.9" cy="671.1" rx="2.4200000000000004" ry="2.4200000000000004" fill="rgb(90,90,90)"/>
<ellipse cx="239.6" cy="690.6" rx="3.3000000000000003" ry="2.75" fill="rgb(30,30,30)"/>
<ellipse cx="238.775" cy="690.0500000000001" rx="1.485" ry="1.1" fill="rgb(20,20,20)"/>
<ellipse cx="240.59" cy="691.2875" rx="1.155" ry="0.9624999999999999" fill="rgb(20,20,20)"/>
<ellipse cx="266.4" cy="687.4" rx="2.2" ry="2.2" fill="rgb(70,70,70)"/>
<ellipse cx="240.6" cy="704.2" rx="3.3000000000000003" ry="3.3000000000000003" fill="rgb(100,100,100)"/>
<ellipse cx="239.775" cy="703.5400000000001" rx="1.485" ry="1.3200000000000003" fill="rgb(75,75,75)"/>
<ellipse cx="241.59" cy="705.0250000000001" rx="1.155" ry="1.155" fill="rgb(75,75,75)"/>
<ellipse cx="272.7" cy="706.1" rx="2.53" ry="2.53" fill="rgb(60,60,60)"/>
</g>
<rect x="230.3" y="660.6" width="65.5" height="49.10000000000002" fill="#888" opacity="0.2" filter="url(#noise)"/>
<line x1="278.2" y1="702.5" x2="291.9" y2="702.5" stroke="#2b1a1a" stroke-width="1.4"/>
</g>
<clipPath id="cc9"><rect x="300.0" y="660.1" width="65.60000000000002" height="49.89999999999998"/></clipPath>
<g clip-path="url(#cc9)">
<rect x="300.0" y="660.1" width="65.60000000000002" height="49.89999999999998" fill="#dedede"/>
<g filter="url(#rough)">
<ellipse cx="305.5" cy="698" rx="0.66" ry="0.66" fill="rgb(80,80,80)"/>
</g>
<rect x="300.0" y="660.1" width="65.60000000000002" height="49.89999999999998" fill="#888" opacity="0.2" filter="url(#noise)"/>
<line x1="347.2" y1="703.4" x2="361.4" y2="703.4" stroke="#2b1a1a" stroke-width="1.4"/>
</g>
<text x="56.7" y="723.8" font-size="11" text-anchor="middle">G1</text>
<text x="125.0" y="723.8" font-size="11" text-anchor="middle">G2</text>
<text x="195.3" y="723.8" font-size="11" text-anchor="middle">G3</text>
<text x="264.4" y="723.8" font-size="11" text-anchor="middle">G4</text>
<text x="331.0" y="723.8" font-size="11" text-anchor="middle">G5</text>
<line x1="417.7" y1="633.1" x2="417.7" y2="742.6" stroke="#3a3a3a" stroke-width="1"/>
<line x1="414.7" y1="633.1" x2="417.7" y2="633.1" stroke="#3a3a3a" stroke-width="1"/>
<text x="415.3" y="637.0" font-size="11" text-anchor="end">120</text>
<line x1="414.7" y1="669.7" x2="417.7" y2="669.7" stroke="#3a3a3a" stroke-width="1"/>
<text x="415.3" y="673.6" font-size="11" text-anchor="end">80</text>
<line x1="414.7" y1="706.0" x2="417.7" y2="706.0" stroke="#3a3a3a" stroke-width="1"/>
<text x="415.3" y="709.9" font-size="11" text-anchor="end">40</text>
<line x1="414.7" y1="742.6" x2="417.7" y2="742.6" stroke="#3a3a3a" stroke-width="1"/>
<text x="415.3" y="746.5" font-size="11" text-anchor="end">0</text>
<line x1="417.7" y1="742.6" x2="511.2" y2="742.6" stroke="#3a3a3a" stroke-width="1"/>
<text transform="translate(391.5,687.0) rotate(-90)" font-size="11" text-anchor="middle" textLength="99.7" lengthAdjust="spacingAndGlyphs">Colony fomation (%)</text>
<rect x="426.8" y="651.7" width="7.699999999999989" height="90.89999999999998" fill="#e7dced" stroke="#b483cc" stroke-width="1"/>
<path d="M430.65,651.70V649.10M428.39,649.10H432.91" stroke="#b483cc" stroke-width="0.9" fill="none"/>
<circle cx="427.5" cy="652.5" r="2.0" fill="none" stroke="#b483cc" stroke-width="0.9"/>
<circle cx="430.7" cy="650.5" r="2.0" fill="none" stroke="#b483cc" stroke-width="0.9"/>
<circle cx="434" cy="652" r="2.0" fill="none" stroke="#b483cc" stroke-width="0.9"/>
<rect x="443.4" y="686.3" width="8.200000000000045" height="56.30000000000007" fill="#d8efee" stroke="#7fcfcf" stroke-width="1"/>
<path d="M447.50,686.30V683.70M445.11,683.70H449.89" stroke="#7fcfcf" stroke-width="0.9" fill="none"/>
<circle cx="444" cy="686.5" r="2.0" fill="none" stroke="#7fcfcf" stroke-width="0.9"/>
<circle cx="447.5" cy="689" r="2.0" fill="none" stroke="#7fcfcf" stroke-width="0.9"/>
<circle cx="451" cy="686.5" r="2.0" fill="none" stroke="#7fcfcf" stroke-width="0.9"/>
<rect x="460.3" y="724.0" width="8.199999999999989" height="18.600000000000023" fill="#f2cdc8" stroke="#e0624f" stroke-width="1"/>
<path d="M464.40,724.00V721.40M462.01,721.40H466.79" stroke="#e0624f" stroke-width="0.9" fill="none"/>
<circle cx="461" cy="723" r="2.0" fill="none" stroke="#e0624f" stroke-width="0.9"/>
<circle cx="464.5" cy="726" r="2.0" fill="none" stroke="#e0624f" stroke-width="0.9"/>
<circle cx="468" cy="725" r="2.0" fill="none" stroke="#e0624f" stroke-width="0.9"/>
<rect x="478.2" y="694.4" width="7.800000000000011" height="48.200000000000045" fill="#cdd6e9" stroke="#5b70b4" stroke-width="1"/>
<path d="M482.10,694.40V691.80M479.81,691.80H484.39" stroke="#5b70b4" stroke-width="0.9" fill="none"/>
<circle cx="479" cy="692.5" r="2.0" fill="none" stroke="#5b70b4" stroke-width="0.9"/>
<circle cx="482" cy="696" r="2.0" fill="none" stroke="#5b70b4" stroke-width="0.9"/>
<circle cx="485.5" cy="694" r="2.0" fill="none" stroke="#5b70b4" stroke-width="0.9"/>
<rect x="495.3" y="741.1" width="8.199999999999989" height="1.5" fill="#d5eed3" stroke="#6cc46c" stroke-width="1"/>
<path d="M499.40,741.10V738.50M497.01,738.50H501.79" stroke="#6cc46c" stroke-width="0.9" fill="none"/>
<circle cx="496" cy="741" r="2.0" fill="none" stroke="#6cc46c" stroke-width="0.9"/>
<circle cx="499.4" cy="739.5" r="2.0" fill="none" stroke="#6cc46c" stroke-width="0.9"/>
<circle cx="503" cy="741" r="2.0" fill="none" stroke="#6cc46c" stroke-width="0.9"/>
<polyline points="430.2,649.6 430.2,641.9 447.3,641.9 447.3,675.8" fill="none" stroke="#6e6e6e" stroke-width="1"/>
<path d="M437.65,637.05L437.65,640.75M436.05,637.98L439.25,639.82M439.25,637.98L436.05,639.82" stroke="#2e2e2e" stroke-width="0.8" fill="none"/>
<path d="M441.55,637.05L441.55,640.75M439.95,637.98L443.15,639.82M443.15,637.98L439.95,639.82" stroke="#2e2e2e" stroke-width="0.8" fill="none"/>
<polyline points="447.3,683.5 447.3,679.1 464.6,679.1 464.6,719.6" fill="none" stroke="#6e6e6e" stroke-width="1"/>
<path d="M453.45,674.25L453.45,677.95M451.85,675.18L455.05,677.02M455.05,675.18L451.85,677.02" stroke="#2e2e2e" stroke-width="0.8" fill="none"/>
<path d="M457.35,674.25L457.35,677.95M455.75,675.18L458.95,677.02M458.95,675.18L455.75,677.02" stroke="#2e2e2e" stroke-width="0.8" fill="none"/>
<polyline points="464.6,690.0 464.6,675.2 482.3,675.2 482.3,690.5" fill="none" stroke="#6e6e6e" stroke-width="1"/>
<path d="M470.95,670.35L470.95,674.05M469.35,671.28L472.55,673.12M472.55,671.28L469.35,673.12" stroke="#2e2e2e" stroke-width="0.8" fill="none"/>
<path d="M474.85,670.35L474.85,674.05M473.25,671.28L476.45,673.12M476.45,671.28L473.25,673.12" stroke="#2e2e2e" stroke-width="0.8" fill="none"/>
<polyline points="464.6,675.2 464.6,665.3 499.6,665.3 499.6,671.5" fill="none" stroke="#6e6e6e" stroke-width="1"/>
<path d="M479.75,660.45L479.75,664.15M478.15,661.38L481.35,663.22M481.35,661.38L478.15,663.22" stroke="#2e2e2e" stroke-width="0.8" fill="none"/>
<path d="M483.65,660.45L483.65,664.15M482.05,661.38L485.25,663.22M485.25,661.38L482.05,663.22" stroke="#2e2e2e" stroke-width="0.8" fill="none"/>
<polyline points="482.3,675.2 482.3,671.5 499.6,671.5 499.6,737.1" fill="none" stroke="#6e6e6e" stroke-width="1"/>
<path d="M488.45,666.65L488.45,670.35M486.85,667.58L490.05,669.42M490.05,667.58L486.85,669.42" stroke="#2e2e2e" stroke-width="0.8" fill="none"/>
<path d="M492.35,666.65L492.35,670.35M490.75,667.58L493.95,669.42M493.95,667.58L490.75,669.42" stroke="#2e2e2e" stroke-width="0.8" fill="none"/>
<text x="430.9" y="751.9" font-size="8.9" text-anchor="middle">G1</text>
<text x="448.0" y="751.9" font-size="8.9" text-anchor="middle">G2</text>
<text x="466.4" y="751.9" font-size="8.9" text-anchor="middle">G3</text>
<text x="483.3" y="751.9" font-size="8.9" text-anchor="middle">G4</text>
<text x="500.1" y="751.9" font-size="8.9" text-anchor="middle">G5</text>
<rect x="520.7" y="641.2" width="160.5" height="68.79999999999995" fill="#fff" stroke="#606060" stroke-width="1"/>
<text x="522.3" y="651.0" font-size="9.05">G1</text>
<text x="540.1" y="651.0" font-size="9.05">Empty</text>
<text x="522.3" y="664.5" font-size="9.05">G2</text>
<text x="540.1" y="664.5" font-size="9.05">Empty+GEM+RA</text>
<text x="522.3" y="677.8" font-size="9.05">G3</text>
<text x="540.1" y="677.8" font-size="9.05">WT-ALKBH5+GEM+RA</text>
<text x="522.3" y="690.8" font-size="9.05">G4</text>
<text x="540.1" y="690.8" font-size="9.05">Del-P#2-ALKBH5+GEM+RA</text>
<text x="522.3" y="704.1" font-size="9.05">G5</text>
<text x="540.1" y="704.1" font-size="9.05">WT-ALKBH5+WT-ZEB1+GEM+RA</text>
<text x="9.8" y="781.8" font-size="16" font-weight="bold" fill="#1a1414">I</text>
<text x="65.5" y="802.1" font-size="11.4" text-anchor="end">GEM+RA</text>
<text x="65.5" y="816.6" font-size="11.4" text-anchor="end">Empty</text>
<text x="65.5" y="830.6" font-size="11.4" text-anchor="end">WT-ALKBH5</text>
<text x="65.5" y="845.4" font-size="11.4" text-anchor="end">WT-ZEB1</text>
<rect x="69.80" y="797.05" width="3.6" height="1.1" fill="#231f20"/>
<path d="M86.85,797.60H92.55M89.70,794.80V800.40" stroke="#231f20" stroke-width="1.15" fill="none"/>
<path d="M104.15,797.60H109.85M107.00,794.80V800.40" stroke="#231f20" stroke-width="1.15" fill="none"/>
<path d="M68.75,813.30H74.45M71.60,810.50V816.10" stroke="#231f20" stroke-width="1.15" fill="none"/>
<path d="M86.85,813.30H92.55M89.70,810.50V816.10" stroke="#231f20" stroke-width="1.15" fill="none"/>
<rect x="105.20" y="812.75" width="3.6" height="1.1" fill="#231f20"/>
<rect x="69.80" y="826.95" width="3.6" height="1.1" fill="#231f20"/>
<rect x="87.90" y="826.95" width="3.6" height="1.1" fill="#231f20"/>
<path d="M104.15,827.50H109.85M107.00,824.70V830.30" stroke="#231f20" stroke-width="1.15" fill="none"/>
<rect x="69.80" y="841.25" width="3.6" height="1.1" fill="#231f20"/>
<rect x="87.90" y="841.25" width="3.6" height="1.1" fill="#231f20"/>
<path d="M104.15,841.80H109.85M107.00,839.00V844.60" stroke="#231f20" stroke-width="1.15" fill="none"/>
<text x="123.7" y="856.4" font-size="11.4">kda</text>
<rect x="59.6" y="857.6" width="58.800000000000004" height="21.299999999999955" fill="#e3e3e3" stroke="#5f5f5f" stroke-width="1"/>
<rect x="59.6" y="882.5" width="58.800000000000004" height="22.0" fill="#e3e3e3" stroke="#5f5f5f" stroke-width="1"/>
<rect x="59.6" y="907.9" width="58.800000000000004" height="20.899999999999977" fill="#e3e3e3" stroke="#5f5f5f" stroke-width="1"/>
<text x="57.4" y="872.8" font-size="11.4" text-anchor="end">ALKBH5</text>
<text x="57.4" y="895.8" font-size="11.4" text-anchor="end">ZEB1</text>
<text x="57.4" y="921.0" font-size="11.4" text-anchor="end">GAPDH</text>
<rect x="64.00" y="867.85" width="13.20" height="2.5" rx="1.25" fill="rgb(165,164,164)" filter="url(#bb)"/>
<rect x="83.70" y="867.85" width="12.10" height="2.5" rx="1.25" fill="rgb(161,160,160)" filter="url(#bb)"/>
<rect x="100.10" y="866.70" width="13.90" height="4.6" rx="1.60" fill="rgb(20,16,16)" filter="url(#bb)"/>
<rect x="64.00" y="890.25" width="13.20" height="2.5" rx="1.25" fill="rgb(165,164,164)" filter="url(#bb)"/>
<rect x="83.70" y="890.25" width="12.10" height="2.5" rx="1.25" fill="rgb(161,160,160)" filter="url(#bb)"/>
<rect x="100.10" y="889.10" width="13.90" height="4.6" rx="1.60" fill="rgb(20,16,16)" filter="url(#bb)"/>
<rect x="62.90" y="916.00" width="14.20" height="3.4" rx="1.60" fill="rgb(20,16,16)" filter="url(#bb)"/>
<rect x="81.90" y="916.00" width="14.20" height="3.4" rx="1.60" fill="rgb(20,16,16)" filter="url(#bb)"/>
<rect x="99.90" y="916.00" width="14.20" height="3.4" rx="1.60" fill="rgb(20,16,16)" filter="url(#bb)"/>
<line x1="118.9" y1="868.0" x2="124.4" y2="868.0" stroke="#444" stroke-width="1"/>
<text x="125.9" y="872.0" font-size="11.4">44</text>
<line x1="118.9" y1="890.8" x2="124.4" y2="890.8" stroke="#444" stroke-width="1"/>
<text x="125.9" y="894.8" font-size="11.4">200</text>
<line x1="118.9" y1="917.0" x2="124.4" y2="917.0" stroke="#444" stroke-width="1"/>
<text x="125.9" y="921.0" font-size="11.4">37</text>
<text x="156.6" y="781.7" font-size="16" font-weight="bold" fill="#1a1414">J</text>
<text x="229.7" y="817.3" font-size="11.4" text-anchor="middle">Empty</text>
<line x1="173.3" y1="821.2" x2="293.4" y2="821.2" stroke="#555" stroke-width="1"/>
<text x="329.3" y="806.4" font-size="11.4" text-anchor="middle">WT-ALKBH5</text>
<text x="326.6" y="819.0" font-size="11.4" text-anchor="middle">+WT-ZEB1</text>
<line x1="297.0" y1="821.3" x2="354.2" y2="821.3" stroke="#555" stroke-width="1"/>
<text x="185.3" y="832.6" font-size="11.4" text-anchor="end">GEM+RA</text>
<rect x="198.80" y="827.75" width="3.6" height="1.1" fill="#231f20"/>
<path d="M260.05,827.30H265.75M262.90,824.50V830.10" stroke="#231f20" stroke-width="1.15" fill="none"/>
<path d="M322.45,827.30H328.15M325.30,824.50V830.10" stroke="#231f20" stroke-width="1.15" fill="none"/>
<rect x="170.3" y="839.3" width="59.599999999999994" height="50.30000000000007" fill="url(#fab)"/>
<rect x="170.3" y="839.3" width="59.599999999999994" height="50.30000000000007" fill="#2a8a6a" opacity="0.25" filter="url(#noise2)"/>
<g filter="url(#bl05)"><path d="M188.6,855.2 C191,851.5 198,851.3 203.5,852.8 C208,854 209.8,859 209.3,864.5 C209,869 206,872.5 201.5,874.5 C197,876 192,875.5 189.5,872 C187,869 186.3,865 186.8,861 C187,858.5 187.5,856.8 188.6,855.2 Z" fill="url(#tum)"/><ellipse cx="193" cy="860" rx="4" ry="3" fill="#f7dcd3" opacity="0.8"/><ellipse cx="201" cy="857" rx="4" ry="2.5" fill="#f5d2c8" opacity="0.7"/><ellipse cx="192" cy="870" rx="3.5" ry="2.5" fill="#f8e2d8" opacity="0.85"/><ellipse cx="203" cy="868" rx="3" ry="2.5" fill="#e7a79d" opacity="0.6"/><path d="M195,862 q3,-2 6,0 M198,866 q3,1 5,-1" stroke="#d9827a" stroke-width="0.7" fill="none"/></g>
<line x1="217.0" y1="883.9" x2="228.4" y2="883.9" stroke="#f4f4f4" stroke-width="1.3"/>
<rect x="233.6" y="839.3" width="59.29999999999998" height="50.30000000000007" fill="url(#fab)"/>
<rect x="233.6" y="839.3" width="59.29999999999998" height="50.30000000000007" fill="#2a8a6a" opacity="0.25" filter="url(#noise2)"/>
<g filter="url(#bl05)"><path d="M258.2,857.2 C261,855.3 266,855.8 268.3,859.5 C270,863 269.6,869 266.5,872 C263.5,874 258.5,873.8 256.3,871.2 C255,869.5 256,866.8 257.6,865.6 C256.2,864.6 255.2,862.2 255.5,860.3 C255.9,858.6 257,857.8 258.2,857.2 Z" fill="url(#tum2)"/><ellipse cx="259" cy="869.5" rx="3" ry="2.5" fill="#fbeee6" opacity="0.9"/><ellipse cx="262.9" cy="863.8" rx="1" ry="0.8" fill="#d8505a" opacity="0.9"/></g>
<line x1="280.3" y1="883.7" x2="292.0" y2="883.7" stroke="#f4f4f4" stroke-width="1.3"/>
<rect x="296.4" y="839.3" width="59.80000000000001" height="50.30000000000007" fill="url(#fab)"/>
<rect x="296.4" y="839.3" width="59.80000000000001" height="50.30000000000007" fill="#2a8a6a" opacity="0.25" filter="url(#noise2)"/>
<line x1="343.1" y1="883.7" x2="354.8" y2="883.7" stroke="#f4f4f4" stroke-width="1.3"/>
<text x="201.2" y="901.5" font-size="11.4" text-anchor="middle">G1</text>
<text x="264.7" y="901.5" font-size="11.4" text-anchor="middle">G2</text>
<text x="327.5" y="901.5" font-size="11.4" text-anchor="middle">G3</text>
<text x="265.3" y="914.7" font-size="11.4" text-anchor="middle" textLength="51.6" lengthAdjust="spacingAndGlyphs">n=5/group</text>
<text x="363.9" y="782.8" font-size="16" font-weight="bold" fill="#1a1414">K</text>
<line x1="396.5" y1="819.7" x2="396.5" y2="897.4" stroke="#3a3a3a" stroke-width="1"/>
<line x1="393.5" y1="819.7" x2="396.5" y2="819.7" stroke="#3a3a3a" stroke-width="1"/>
<text x="394.6" y="823.6" font-size="11" text-anchor="end">400</text>
<line x1="393.5" y1="838.7" x2="396.5" y2="838.7" stroke="#3a3a3a" stroke-width="1"/>
<text x="394.6" y="842.6" font-size="11" text-anchor="end">300</text>
<line x1="393.5" y1="858.5" x2="396.5" y2="858.5" stroke="#3a3a3a" stroke-width="1"/>
<text x="394.6" y="862.4" font-size="11" text-anchor="end">200</text>
<line x1="393.5" y1="878.0" x2="396.5" y2="878.0" stroke="#3a3a3a" stroke-width="1"/>
<text x="394.6" y="881.9" font-size="11" text-anchor="end">100</text>
<line x1="393.5" y1="897.4" x2="396.5" y2="897.4" stroke="#3a3a3a" stroke-width="1"/>
<text x="394.6" y="901.3" font-size="11" text-anchor="end">0</text>
<line x1="396.5" y1="897.4" x2="513.6" y2="897.4" stroke="#3a3a3a" stroke-width="1"/>
<line x1="407.4" y1="897.4" x2="407.4" y2="897.4" stroke="#3a3a3a" stroke-width="1"/>
<text x="407.4" y="908.9" font-size="11" text-anchor="middle">0</text>
<line x1="423.1" y1="897.4" x2="423.1" y2="897.4" stroke="#3a3a3a" stroke-width="1"/>
<text x="423.1" y="908.9" font-size="11" text-anchor="middle">6</text>
<line x1="438.6" y1="897.4" x2="438.6" y2="897.4" stroke="#3a3a3a" stroke-width="1"/>
<text x="438.6" y="908.9" font-size="11" text-anchor="middle">12</text>
<line x1="455.0" y1="897.4" x2="455.0" y2="897.4" stroke="#3a3a3a" stroke-width="1"/>
<text x="455.0" y="908.9" font-size="11" text-anchor="middle">18</text>
<line x1="470.7" y1="897.4" x2="470.7" y2="897.4" stroke="#3a3a3a" stroke-width="1"/>
<text x="470.7" y="908.9" font-size="11" text-anchor="middle">24</text>
<line x1="486.5" y1="897.4" x2="486.5" y2="897.4" stroke="#3a3a3a" stroke-width="1"/>
<text x="486.5" y="908.9" font-size="11" text-anchor="middle">30</text>
<line x1="502.0" y1="897.4" x2="502.0" y2="897.4" stroke="#3a3a3a" stroke-width="1"/>
<text x="502.0" y="908.9" font-size="11" text-anchor="middle">36</text>
<text x="463.4" y="918.8" font-size="11" text-anchor="middle" textLength="58.8" lengthAdjust="spacingAndGlyphs">Time (days)</text>
<text transform="translate(371.8,858.7) rotate(-90)" font-size="11" text-anchor="middle">Tumor volume (mm<tspan font-size="7" dy="-4">3</tspan><tspan dy="4">)</tspan></text>
<polyline points="407.4,897.4 423.1,897.4 438.6,896.0 455.0,890.8 470.7,881.6 486.5,865.7 502.0,825.8" fill="none" stroke="#3b5cbf" stroke-width="0.85"/>
<circle cx="407.4" cy="897.4" r="1.8" fill="#3b5cbf"/>
<circle cx="423.1" cy="897.4" r="1.8" fill="#3b5cbf"/>
<circle cx="438.6" cy="896.0" r="1.8" fill="#3b5cbf"/>
<circle cx="455.0" cy="890.8" r="1.8" fill="#3b5cbf"/>
<line x1="470.7" y1="880.6" x2="470.7" y2="882.6" stroke="#3b5cbf" stroke-width="0.9"/>
<line x1="468.9" y1="880.6" x2="472.5" y2="880.6" stroke="#3b5cbf" stroke-width="0.9"/>
<line x1="468.9" y1="882.6" x2="472.5" y2="882.6" stroke="#3b5cbf" stroke-width="0.9"/>
<circle cx="470.7" cy="881.6" r="1.8" fill="#3b5cbf"/>
<line x1="486.5" y1="861.7" x2="486.5" y2="869.7" stroke="#3b5cbf" stroke-width="0.9"/>
<line x1="484.7" y1="861.7" x2="488.3" y2="861.7" stroke="#3b5cbf" stroke-width="0.9"/>
<line x1="484.7" y1="869.7" x2="488.3" y2="869.7" stroke="#3b5cbf" stroke-width="0.9"/>
<circle cx="486.5" cy="865.7" r="1.8" fill="#3b5cbf"/>
<line x1="502.0" y1="820.3" x2="502.0" y2="831.3" stroke="#3b5cbf" stroke-width="0.9"/>
<line x1="500.2" y1="820.3" x2="503.8" y2="820.3" stroke="#3b5cbf" stroke-width="0.9"/>
<line x1="500.2" y1="831.3" x2="503.8" y2="831.3" stroke="#3b5cbf" stroke-width="0.9"/>
<circle cx="502.0" cy="825.8" r="1.8" fill="#3b5cbf"/>
<polyline points="407.4,897.4 423.1,897.4 438.6,896.4 455.0,888.4 470.7,885.1 486.5,885.1 502.0,886.3" fill="none" stroke="#f39a2f" stroke-width="0.85"/>
<polygon points="405.79999999999995,895.8 409.0,895.8 407.4,897.88" fill="#f39a2f"/>
<polygon points="405.79999999999995,899.0 409.0,899.0 407.4,896.92" fill="#f39a2f"/>
<polygon points="421.5,895.8 424.70000000000005,895.8 423.1,897.88" fill="#f39a2f"/>
<polygon points="421.5,899.0 424.70000000000005,899.0 423.1,896.92" fill="#f39a2f"/>
<polygon points="437.0,894.8 440.20000000000005,894.8 438.6,896.88" fill="#f39a2f"/>
<polygon points="437.0,898.0 440.20000000000005,898.0 438.6,895.92" fill="#f39a2f"/>
<line x1="455.0" y1="886.9" x2="455.0" y2="889.9" stroke="#f39a2f" stroke-width="0.9"/>
<line x1="453.2" y1="886.9" x2="456.8" y2="886.9" stroke="#f39a2f" stroke-width="0.9"/>
<line x1="453.2" y1="889.9" x2="456.8" y2="889.9" stroke="#f39a2f" stroke-width="0.9"/>
<polygon points="453.4,886.8 456.6,886.8 455.0,888.88" fill="#f39a2f"/>
<polygon points="453.4,890.0 456.6,890.0 455.0,887.92" fill="#f39a2f"/>
<line x1="470.7" y1="882.9" x2="470.7" y2="887.3000000000001" stroke="#f39a2f" stroke-width="0.9"/>
<line x1="468.9" y1="882.9" x2="472.5" y2="882.9" stroke="#f39a2f" stroke-width="0.9"/>
<line x1="468.9" y1="887.3000000000001" x2="472.5" y2="887.3000000000001" stroke="#f39a2f" stroke-width="0.9"/>
<polygon points="469.09999999999997,883.5 472.3,883.5 470.7,885.58" fill="#f39a2f"/>
<polygon points="469.09999999999997,886.7 472.3,886.7 470.7,884.62" fill="#f39a2f"/>
<line x1="486.5" y1="883.1" x2="486.5" y2="887.1" stroke="#f39a2f" stroke-width="0.9"/>
<line x1="484.7" y1="883.1" x2="488.3" y2="883.1" stroke="#f39a2f" stroke-width="0.9"/>
<line x1="484.7" y1="887.1" x2="488.3" y2="887.1" stroke="#f39a2f" stroke-width="0.9"/>
<polygon points="484.9,883.5 488.1,883.5 486.5,885.58" fill="#f39a2f"/>
<polygon points="484.9,886.7 488.1,886.7 486.5,884.62" fill="#f39a2f"/>
<line x1="502.0" y1="884.3" x2="502.0" y2="888.3" stroke="#f39a2f" stroke-width="0.9"/>
<line x1="500.2" y1="884.3" x2="503.8" y2="884.3" stroke="#f39a2f" stroke-width="0.9"/>
<line x1="500.2" y1="888.3" x2="503.8" y2="888.3" stroke="#f39a2f" stroke-width="0.9"/>
<polygon points="500.4,884.6999999999999 503.6,884.6999999999999 502.0,886.78" fill="#f39a2f"/>
<polygon points="500.4,887.9 503.6,887.9 502.0,885.8199999999999" fill="#f39a2f"/>
<polyline points="407.4,897.4 423.1,897.4 438.6,896.6 455.0,891.4 470.7,891.2 486.5,893.3 502.0,896.4" fill="none" stroke="#e8432e" stroke-width="0.85"/>
<polygon points="407.4,895.36 405.53,898.93 409.27,898.93" fill="#e8432e"/>
<polygon points="423.1,895.36 421.23,898.93 424.97,898.93" fill="#e8432e"/>
<polygon points="438.6,894.5600000000001 436.73,898.13 440.47,898.13" fill="#e8432e"/>
<line x1="455.0" y1="890.4" x2="455.0" y2="892.4" stroke="#e8432e" stroke-width="0.9"/>
<line x1="453.2" y1="890.4" x2="456.8" y2="890.4" stroke="#e8432e" stroke-width="0.9"/>
<line x1="453.2" y1="892.4" x2="456.8" y2="892.4" stroke="#e8432e" stroke-width="0.9"/>
<polygon points="455.0,889.36 453.13,892.93 456.87,892.93" fill="#e8432e"/>
<line x1="470.7" y1="890.2" x2="470.7" y2="892.2" stroke="#e8432e" stroke-width="0.9"/>
<line x1="468.9" y1="890.2" x2="472.5" y2="890.2" stroke="#e8432e" stroke-width="0.9"/>
<line x1="468.9" y1="892.2" x2="472.5" y2="892.2" stroke="#e8432e" stroke-width="0.9"/>
<polygon points="470.7,889.1600000000001 468.83,892.73 472.57,892.73" fill="#e8432e"/>
<line x1="486.5" y1="891.8" x2="486.5" y2="894.8" stroke="#e8432e" stroke-width="0.9"/>
<line x1="484.7" y1="891.8" x2="488.3" y2="891.8" stroke="#e8432e" stroke-width="0.9"/>
<line x1="484.7" y1="894.8" x2="488.3" y2="894.8" stroke="#e8432e" stroke-width="0.9"/>
<polygon points="486.5,891.26 484.63,894.8299999999999 488.37,894.8299999999999" fill="#e8432e"/>
<line x1="502.0" y1="895.6" x2="502.0" y2="897.1999999999999" stroke="#e8432e" stroke-width="0.9"/>
<line x1="500.2" y1="895.6" x2="503.8" y2="895.6" stroke="#e8432e" stroke-width="0.9"/>
<line x1="500.2" y1="897.1999999999999" x2="503.8" y2="897.1999999999999" stroke="#e8432e" stroke-width="0.9"/>
<polygon points="502.0,894.36 500.13,897.93 503.87,897.93" fill="#e8432e"/>
<polyline points="506.1,825.4 509.1,825.4 509.1,886.3 506.1,886.3" fill="none" stroke="#6e6e6e" stroke-width="1"/>
<polyline points="505.6,886.3 513.6,886.3 513.6,896.4 505.6,896.4" fill="none" stroke="#6e6e6e" stroke-width="1"/>
<path d="M514.40,854.50L514.40,857.50M513.10,855.25L515.70,856.75M515.70,855.25L513.10,856.75" stroke="#2e2e2e" stroke-width="0.8" fill="none"/>
<path d="M514.40,858.30L514.40,861.30M513.10,859.05L515.70,860.55M515.70,859.05L513.10,860.55" stroke="#2e2e2e" stroke-width="0.8" fill="none"/>
<path d="M516.80,889.00L516.80,892.00M515.50,889.75L518.10,891.25M518.10,889.75L515.50,891.25" stroke="#2e2e2e" stroke-width="0.8" fill="none"/>
<path d="M516.80,892.80L516.80,895.80M515.50,893.55L518.10,895.05M518.10,893.55L515.50,895.05" stroke="#2e2e2e" stroke-width="0.8" fill="none"/>
<rect x="402.8" y="814.7" width="25.099999999999966" height="33.09999999999991" fill="#fff" stroke="#606060" stroke-width="1"/>
<line x1="404.3" y1="820.7" x2="412.9" y2="820.7" stroke="#3b5cbf" stroke-width="1"/>
<circle cx="408.6" cy="820.7" r="1.3" fill="#3b5cbf"/>
<text x="416.4" y="823.1" font-size="6.6">G1</text>
<line x1="404.3" y1="832.0" x2="412.9" y2="832.0" stroke="#f39a2f" stroke-width="1"/>
<polygon points="407.3,830.7 409.90000000000003,830.7 408.6,832.39" fill="#f39a2f"/>
<polygon points="407.3,833.3 409.90000000000003,833.3 408.6,831.61" fill="#f39a2f"/>
<text x="416.4" y="834.4" font-size="6.6">G2</text>
<line x1="404.3" y1="843.2" x2="412.9" y2="843.2" stroke="#e8432e" stroke-width="1"/>
<polygon points="408.6,841.6400000000001 407.17,844.37 410.03000000000003,844.37" fill="#e8432e"/>
<text x="416.4" y="845.6" font-size="6.6">G3</text>
<text x="541.3" y="782.5" font-size="16" font-weight="bold" fill="#1a1414">L</text>
<line x1="555.4" y1="814.9" x2="555.4" y2="896.0" stroke="#3a3a3a" stroke-width="1"/>
<line x1="552.4" y1="814.9" x2="555.4" y2="814.9" stroke="#3a3a3a" stroke-width="1"/>
<text x="553.0" y="818.8" font-size="11" text-anchor="end">100</text>
<line x1="552.4" y1="831.0" x2="555.4" y2="831.0" stroke="#3a3a3a" stroke-width="1"/>
<text x="553.0" y="834.9" font-size="11" text-anchor="end">80</text>
<line x1="552.4" y1="846.9" x2="555.4" y2="846.9" stroke="#3a3a3a" stroke-width="1"/>
<text x="553.0" y="850.8" font-size="11" text-anchor="end">60</text>
<line x1="552.4" y1="863.5" x2="555.4" y2="863.5" stroke="#3a3a3a" stroke-width="1"/>
<text x="553.0" y="867.4" font-size="11" text-anchor="end">40</text>
<line x1="552.4" y1="880.1" x2="555.4" y2="880.1" stroke="#3a3a3a" stroke-width="1"/>
<text x="553.0" y="884.0" font-size="11" text-anchor="end">20</text>
<line x1="552.4" y1="896.0" x2="555.4" y2="896.0" stroke="#3a3a3a" stroke-width="1"/>
<text x="553.0" y="899.9" font-size="11" text-anchor="end">0</text>
<line x1="555.4" y1="896.0" x2="677.3" y2="896.0" stroke="#3a3a3a" stroke-width="1"/>
<line x1="555.4" y1="896.0" x2="555.4" y2="899.5" stroke="#3a3a3a" stroke-width="1"/>
<text x="555.4" y="908.2" font-size="11" text-anchor="middle">0</text>
<line x1="586.6" y1="896.0" x2="586.6" y2="899.5" stroke="#3a3a3a" stroke-width="1"/>
<text x="586.6" y="908.2" font-size="11" text-anchor="middle">20</text>
<line x1="617.3" y1="896.0" x2="617.3" y2="899.5" stroke="#3a3a3a" stroke-width="1"/>
<text x="617.3" y="908.2" font-size="11" text-anchor="middle">40</text>
<line x1="648.0" y1="896.0" x2="648.0" y2="899.5" stroke="#3a3a3a" stroke-width="1"/>
<text x="648.0" y="908.2" font-size="11" text-anchor="middle">60</text>
<line x1="677.3" y1="896.0" x2="677.3" y2="899.5" stroke="#3a3a3a" stroke-width="1"/>
<text x="677.3" y="908.2" font-size="11" text-anchor="middle">80</text>
<text x="631.3" y="917.6" font-size="11" text-anchor="middle" textLength="58.7" lengthAdjust="spacingAndGlyphs">Time (days)</text>
<text transform="translate(529.6,861.5) rotate(-90)" font-size="11" text-anchor="middle" textLength="106.1" lengthAdjust="spacingAndGlyphs">Probability of Survival</text>
<polyline points="555.4,814.9 640.3,814.9 640.3,825.0 651.0,825.0 651.0,835.2 663.3,835.2 663.3,845.4 672.2,845.4 672.2,855.6 677.3,855.6 677.3,865.8 677.3,865.8" fill="none" stroke="#6fd0d6" stroke-width="1.5"/>
<polyline points="555.4,814.9 629.6,814.9 629.6,825.0 637.0,825.0 637.0,835.2 648.0,835.2 648.0,845.4 651.8,845.4 651.8,855.6 658.7,855.6 658.7,865.8 664.0,865.8 664.0,876.0 677.3,876.0" fill="none" stroke="#e8432e" stroke-width="1.5"/>
<polyline points="555.4,814.9 611.4,814.9 611.4,825.0 616.8,825.0 616.8,835.2 620.4,835.2 620.4,845.4 629.3,845.4 629.3,855.6 634.4,855.6 634.4,865.8 648.0,865.8 648.0,876.0 652.3,876.0 652.3,886.0 655.6,886.0 655.6,896.0 655.6,896.0" fill="none" stroke="#3a55c0" stroke-width="1.5"/>
<line x1="559.4" y1="862.8" x2="568.9" y2="862.8" stroke="#3a55c0" stroke-width="1.5"/>
<line x1="564.1" y1="861.3" x2="564.1" y2="862.8" stroke="#3a55c0" stroke-width="0.8"/>
<text x="573.8" y="865.0999999999999" font-size="6.7">G1</text>
<line x1="559.4" y1="874.2" x2="568.9" y2="874.2" stroke="#e8432e" stroke-width="1.5"/>
<line x1="564.1" y1="872.7" x2="564.1" y2="874.2" stroke="#e8432e" stroke-width="0.8"/>
<text x="573.8" y="876.5" font-size="6.7">G2</text>
<line x1="559.4" y1="885.5" x2="568.9" y2="885.5" stroke="#6fd0d6" stroke-width="1.5"/>
<line x1="564.1" y1="884.0" x2="564.1" y2="885.5" stroke="#6fd0d6" stroke-width="0.8"/>
<text x="573.8" y="887.8" font-size="6.7">G3</text>
<polyline points="584.2,862.0 587.8,862.0 587.8,874.5 584.2,874.5" fill="none" stroke="#444" stroke-width="0.9"/>
<polyline points="590.9,874.2 594.8,874.2 594.8,885.5 584.2,885.5" fill="none" stroke="#444" stroke-width="0.9"/>
<path d="M591.80,864.20L591.80,867.80M590.24,865.10L593.36,866.90M593.36,865.10L590.24,866.90" stroke="#2e2e2e" stroke-width="0.8" fill="none"/>
<path d="M591.80,868.60L591.80,872.20M590.24,869.50L593.36,871.30M593.36,869.50L590.24,871.30" stroke="#2e2e2e" stroke-width="0.8" fill="none"/>
<path d="M598.90,877.50L598.90,881.10M597.34,878.40L600.46,880.20M600.46,878.40L597.34,880.20" stroke="#2e2e2e" stroke-width="0.8" fill="none"/>
<path d="M598.90,881.90L598.90,885.50M597.34,882.80L600.46,884.60M600.46,882.80L597.34,884.60" stroke="#2e2e2e" stroke-width="0.8" fill="none"/>
</svg>
</body></html>
